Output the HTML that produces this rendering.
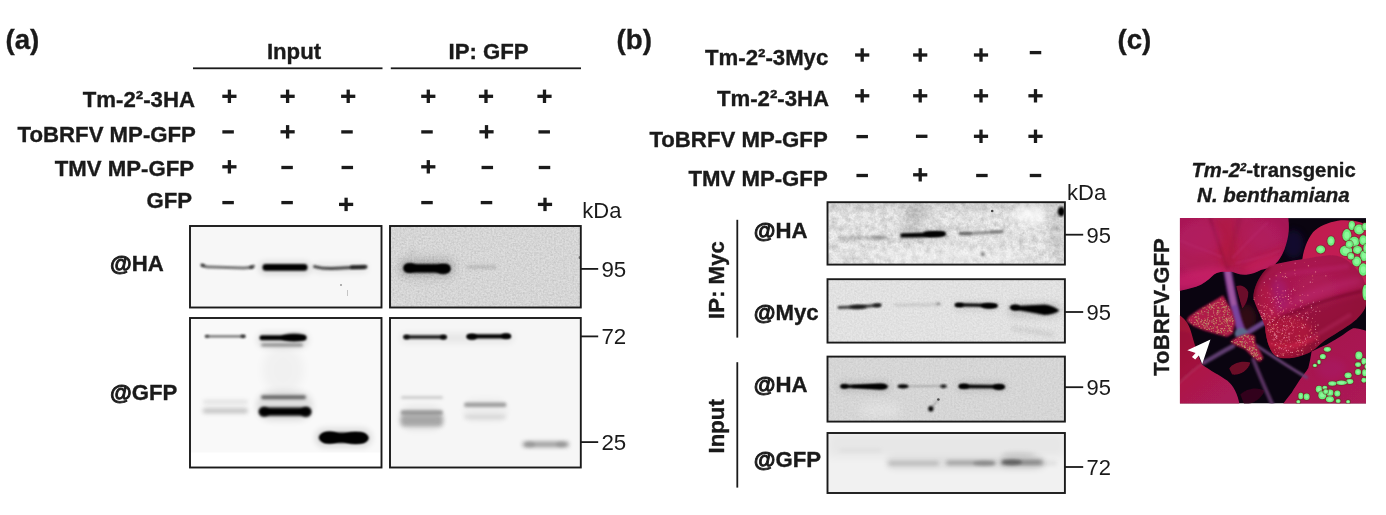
<!DOCTYPE html>
<html><head><meta charset="utf-8"><title>Figure</title>
<style>html,body{margin:0;padding:0;background:#fff;}body{width:1386px;height:515px;overflow:hidden;font-family:"Liberation Sans",sans-serif;}svg{display:block;position:absolute;left:0;top:0;}text{font-family:"Liberation Sans",sans-serif;fill:#1a1a1a;}text[font-weight="bold"]{stroke:#1a1a1a;stroke-width:0.35px;}</style></head><body>
<svg width="1386" height="515" viewBox="0 0 1386 515">
<defs>
<filter id="b05" filterUnits="userSpaceOnUse" x="180" y="195" width="900" height="310"><feGaussianBlur stdDeviation="0.5"/></filter>
<filter id="b08" filterUnits="userSpaceOnUse" x="180" y="195" width="900" height="310"><feGaussianBlur stdDeviation="0.8"/></filter>
<filter id="b1" filterUnits="userSpaceOnUse" x="180" y="195" width="900" height="310"><feGaussianBlur stdDeviation="1.0"/></filter>
<filter id="b15" filterUnits="userSpaceOnUse" x="180" y="195" width="900" height="310"><feGaussianBlur stdDeviation="1.5"/></filter>
<filter id="b2" filterUnits="userSpaceOnUse" x="180" y="195" width="900" height="310"><feGaussianBlur stdDeviation="2.0"/></filter>
<filter id="b3" filterUnits="userSpaceOnUse" x="180" y="195" width="900" height="310"><feGaussianBlur stdDeviation="3.0"/></filter>
<filter id="b5" filterUnits="userSpaceOnUse" x="180" y="195" width="900" height="310"><feGaussianBlur stdDeviation="5.0"/></filter>
<filter id="b8" filterUnits="userSpaceOnUse" x="180" y="195" width="900" height="310"><feGaussianBlur stdDeviation="8.0"/></filter>
<filter id="noiseF" x="0" y="0" width="100%" height="100%" color-interpolation-filters="sRGB"><feTurbulence type="fractalNoise" baseFrequency="0.55" numOctaves="2" seed="3"/><feColorMatrix type="matrix" values="0 0 0 0 0  0 0 0 0 0  0 0 0 0 0  0.14 0.14 0.14 0 -0.16"/></filter>
<filter id="noiseM" x="0" y="0" width="100%" height="100%" color-interpolation-filters="sRGB"><feTurbulence type="fractalNoise" baseFrequency="0.16" numOctaves="3" seed="8"/><feColorMatrix type="matrix" values="0 0 0 0 0  0 0 0 0 0  0 0 0 0 0  0.33 0.33 0.33 0 -0.40"/></filter>
</defs>
<rect x="0" y="0" width="1386" height="515" fill="#ffffff"/>
<g opacity="0.999">
<clipPath id="cpA1"><rect x="190" y="226" width="191.5" height="81.5"/></clipPath>
<g clip-path="url(#cpA1)">
<rect x="190" y="226" width="191.5" height="81.5" fill="#f7f7f7"/>
<path d="M201.8 264.9 Q204.5 266.8 211 267.1 L243 268.0 Q250 268.2 253.6 266.0" fill="none" stroke="#555" stroke-width="3.0" stroke-linecap="round" opacity="0.8" filter="url(#b1)"/>
<ellipse cx="203.0" cy="265.4" rx="1.8" ry="1.3" fill="#222" opacity="0.8" filter="url(#b08)"/>
<ellipse cx="251.5" cy="267.2" rx="2.2" ry="1.5" fill="#222" opacity="0.8" filter="url(#b08)"/>
<rect x="262.5" y="264.1" width="45.0" height="6.6" rx="3.3" fill="#000" opacity="1.0" filter="url(#b1)" />
<rect x="259.0" y="261.5" width="52.0" height="13.0" rx="6.5" fill="#000" opacity="0.12" filter="url(#b3)" />
<path d="M314.6 266.6 Q322 268.8 332 268.6 L352 267.6 Q360 267.2 366 266.8" fill="none" stroke="#2a2a2a" stroke-width="3.0" stroke-linecap="round" opacity="0.85" filter="url(#b1)"/>
<rect x="350.0" y="265.3" width="16.3" height="3.8" rx="1.9" fill="#111" opacity="0.7" filter="url(#b1)" />
<rect x="312.0" y="263.5" width="56.0" height="9.0" rx="4.5" fill="#000" opacity="0.07" filter="url(#b3)" />
<circle cx="341" cy="285" r="1" fill="#999" filter="url(#b05)"/>
<rect x="347" y="290" width="0.8" height="6" fill="#bbb" filter="url(#b05)"/>
</g>
<rect x="190" y="226" width="191.5" height="81.5" fill="none" stroke="#1a1a1a" stroke-width="1.9"/>
<clipPath id="cpA2"><rect x="190" y="318" width="191.5" height="149.5"/></clipPath>
<g clip-path="url(#cpA2)">
<rect x="190" y="318" width="191.5" height="149.5" fill="#f9f9f9"/>
<rect x="190" y="452.5" width="192" height="16" fill="#fff"/>
<rect x="205.2" y="335.2" width="40.2" height="2.4" rx="1.2" fill="#555" opacity="0.85" filter="url(#b08)" />
<ellipse cx="207.0" cy="336.3" rx="2.2" ry="1.4" fill="#333" opacity="0.8" filter="url(#b08)"/>
<ellipse cx="243.0" cy="336.3" rx="2.6" ry="1.7" fill="#222" opacity="0.85" filter="url(#b08)"/>
<rect x="259.5" y="335.3" width="46.5" height="5.0" rx="2.5" fill="#000" opacity="1.0" filter="url(#b1)" />
<ellipse cx="294.0" cy="337.5" rx="12.5" ry="3.7" fill="#000" opacity="1.0" filter="url(#b15)"/>
<rect x="261.0" y="343.5" width="42.0" height="3.0" rx="1.5" fill="#333" opacity="0.5" filter="url(#b15)" />
<rect x="257.0" y="332.0" width="52.0" height="16.0" rx="8.0" fill="#000" opacity="0.09" filter="url(#b3)" />
<rect x="203.0" y="400.2" width="45.0" height="3.5" rx="1.8" fill="#999" opacity="0.3" filter="url(#b2)" />
<rect x="202.6" y="408.3" width="45.4" height="5.0" rx="2.5" fill="#777" opacity="0.42" filter="url(#b2)" />
<rect x="261.0" y="395.2" width="45.0" height="4.0" rx="2.0" fill="#333" opacity="0.7" filter="url(#b15)" />
<rect x="259.3" y="407.4" width="51.7" height="8.4" rx="4.2" fill="#000" opacity="1.0" filter="url(#b15)" />
<ellipse cx="264.0" cy="411.8" rx="5.0" ry="4.8" fill="#000" opacity="0.8" filter="url(#b15)"/>
<ellipse cx="306.0" cy="412.0" rx="5.0" ry="5.0" fill="#000" opacity="0.8" filter="url(#b15)"/>
<rect x="256.0" y="391.0" width="57.0" height="30.0" rx="15.0" fill="#000" opacity="0.1" filter="url(#b3)" />
<rect x="262.0" y="345.0" width="42.0" height="50.0" rx="25.0" fill="#000" opacity="0.03" filter="url(#b5)" />
<ellipse cx="329.5" cy="437.4" rx="10.8" ry="6.0" fill="#000" opacity="1.0" filter="url(#b1)"/>
<ellipse cx="355.5" cy="437.9" rx="13.2" ry="6.0" fill="#000" opacity="1.0" filter="url(#b1)"/>
<rect x="321.0" y="432.4" width="46.0" height="10.6" rx="5.3" fill="#000" opacity="1.0" filter="url(#b1)" />
<rect x="315.0" y="428.2" width="57.0" height="19.0" rx="9.5" fill="#000" opacity="0.12" filter="url(#b3)" />
</g>
<rect x="190" y="318" width="191.5" height="149.5" fill="none" stroke="#1a1a1a" stroke-width="1.9"/>
<clipPath id="cpA3"><rect x="390" y="226" width="190.79999999999995" height="81.5"/></clipPath>
<g clip-path="url(#cpA3)">
<rect x="390" y="226" width="190.79999999999995" height="81.5" fill="#dedede"/>
<rect x="390" y="226" width="190.79999999999995" height="81.5" fill="#000" filter="url(#noiseF)" opacity="0.8"/>
<rect x="396.0" y="255.0" width="62.0" height="26.0" rx="13.0" fill="#000" opacity="0.05" filter="url(#b5)" />
<rect x="403.5" y="264.1" width="47.0" height="8.6" rx="4.3" fill="#000" opacity="1.0" filter="url(#b1)" />
<ellipse cx="410.0" cy="267.6" rx="6.0" ry="4.6" fill="#000" opacity="0.9" filter="url(#b1)"/>
<ellipse cx="443.0" cy="269.2" rx="7.0" ry="5.0" fill="#000" opacity="0.9" filter="url(#b1)"/>
<rect x="400.0" y="260.0" width="53.0" height="16.0" rx="8.0" fill="#000" opacity="0.14" filter="url(#b3)" />
<rect x="466.0" y="265.2" width="31.0" height="3.5" rx="1.8" fill="#777" opacity="0.3" filter="url(#b15)" />
<ellipse cx="412.0" cy="252.0" rx="3.0" ry="3.0" fill="#888" opacity="0.15" filter="url(#b2)"/>
<ellipse cx="579.5" cy="257.5" rx="0.9" ry="1.6" fill="#555" opacity="0.8" filter="url(#b05)"/>
</g>
<rect x="390" y="226" width="190.79999999999995" height="81.5" fill="none" stroke="#1a1a1a" stroke-width="1.9"/>
<clipPath id="cpA4"><rect x="390" y="318" width="190.79999999999995" height="149.5"/></clipPath>
<g clip-path="url(#cpA4)">
<rect x="390" y="318" width="190.79999999999995" height="149.5" fill="#f6f6f6"/>
<rect x="403.5" y="335.2" width="43.0" height="3.6" rx="1.8" fill="#111" opacity="0.95" filter="url(#b08)" />
<ellipse cx="406.5" cy="337.0" rx="3.0" ry="2.3" fill="#000" opacity="0.8" filter="url(#b08)"/>
<ellipse cx="443.5" cy="337.2" rx="3.2" ry="2.4" fill="#000" opacity="0.85" filter="url(#b08)"/>
<rect x="466.5" y="334.2" width="44.5" height="4.4" rx="2.2" fill="#000" opacity="1.0" filter="url(#b08)" />
<ellipse cx="472.0" cy="336.8" rx="5.0" ry="3.0" fill="#000" opacity="0.9" filter="url(#b08)"/>
<ellipse cx="506.0" cy="336.0" rx="4.5" ry="2.8" fill="#000" opacity="0.9" filter="url(#b08)"/>
<rect x="400.0" y="333.0" width="114.0" height="10.0" rx="5.0" fill="#000" opacity="0.06" filter="url(#b3)" />
<rect x="401.0" y="396.0" width="42.0" height="3.0" rx="1.5" fill="#999" opacity="0.45" filter="url(#b15)" />
<rect x="400.5" y="410.0" width="42.5" height="5.0" rx="2.5" fill="#666" opacity="0.55" filter="url(#b15)" />
<rect x="400.5" y="414.5" width="42.5" height="12.0" rx="4.0" fill="#777" opacity="0.55" filter="url(#b2)" />
<rect x="399.0" y="405.0" width="45.0" height="26.0" rx="13.0" fill="#000" opacity="0.05" filter="url(#b3)" />
<rect x="464.0" y="402.4" width="42.5" height="4.6" rx="2.3" fill="#777" opacity="0.65" filter="url(#b15)" />
<rect x="464.0" y="415.0" width="42.0" height="4.0" rx="2.0" fill="#aaa" opacity="0.35" filter="url(#b2)" />
<rect x="463.0" y="398.0" width="45.0" height="24.0" rx="12.0" fill="#000" opacity="0.03" filter="url(#b3)" />
<rect x="522.5" y="441.4" width="46.5" height="5.8" rx="2.9" fill="#777" opacity="0.7" filter="url(#b2)" />
<ellipse cx="530.0" cy="444.6" rx="5.0" ry="3.0" fill="#666" opacity="0.25" filter="url(#b15)"/>
<ellipse cx="561.0" cy="444.4" rx="5.0" ry="3.0" fill="#666" opacity="0.25" filter="url(#b15)"/>
</g>
<rect x="390" y="318" width="190.79999999999995" height="149.5" fill="none" stroke="#1a1a1a" stroke-width="1.9"/>
<clipPath id="cpB1"><rect x="827.5" y="202.2" width="237.4000000000001" height="62.400000000000034"/></clipPath>
<g clip-path="url(#cpB1)">
<rect x="827.5" y="202.2" width="237.4000000000001" height="62.400000000000034" fill="#f1f1f1"/>
<rect x="827.5" y="202.2" width="237.4000000000001" height="62.400000000000034" fill="#000" filter="url(#noiseM)" opacity="0.5"/>
<rect x="827.5" y="202.2" width="237.4000000000001" height="62.400000000000034" fill="#000" filter="url(#noiseF)" opacity="0.6"/>
<ellipse cx="1030.0" cy="214.0" rx="17.0" ry="10.0" fill="#fff" opacity="0.75" filter="url(#b5)"/>
<ellipse cx="915.0" cy="216.0" rx="11.0" ry="13.0" fill="#000" opacity="0.13" filter="url(#b5)"/>
<ellipse cx="1056.0" cy="232.0" rx="7.0" ry="28.0" fill="#000" opacity="0.1" filter="url(#b5)"/>
<ellipse cx="950.0" cy="256.0" rx="80.0" ry="8.0" fill="#fff" opacity="0.35" filter="url(#b5)"/>
<path d="M840 237.9 L887 237.6" fill="none" stroke="#666" stroke-width="2.6" stroke-linecap="round" opacity="0.42" filter="url(#b15)"/>
<ellipse cx="878.0" cy="237.6" rx="7.0" ry="1.8" fill="#444" opacity="0.35" filter="url(#b15)"/>
<path d="M902.5 235.4 Q925 235.4 943.5 233.8" fill="none" stroke="#000" stroke-width="4.4" stroke-linecap="round" opacity="1.0" filter="url(#b1)"/>
<ellipse cx="934.0" cy="233.9" rx="11.0" ry="2.9" fill="#000" opacity="1.0" filter="url(#b1)"/>
<rect x="827" y="200" width="240" height="9" fill="#000" opacity="0.07" filter="url(#b3)"/>
<rect x="898.0" y="229.5" width="51.0" height="11.0" rx="5.5" fill="#000" opacity="0.12" filter="url(#b3)" />
<path d="M959.5 233.6 Q980 233.2 1002.5 231.5" fill="none" stroke="#555" stroke-width="2.6" stroke-linecap="round" opacity="0.6" filter="url(#b1)"/>
<ellipse cx="966.0" cy="233.6" rx="7.0" ry="1.8" fill="#333" opacity="0.45" filter="url(#b1)"/>
<ellipse cx="996.0" cy="231.8" rx="6.0" ry="1.6" fill="#333" opacity="0.35" filter="url(#b1)"/>
<ellipse cx="1061.3" cy="211.6" rx="3.6" ry="4.8" fill="#000" opacity="1.0" filter="url(#b1)"/>
<ellipse cx="992.2" cy="211.0" rx="1.3" ry="1.3" fill="#333" opacity="0.9" filter="url(#b05)"/>
<ellipse cx="982.8" cy="254.3" rx="2.0" ry="2.0" fill="#666" opacity="0.75" filter="url(#b08)"/>
</g>
<rect x="827.5" y="202.2" width="237.4000000000001" height="62.400000000000034" fill="none" stroke="#1a1a1a" stroke-width="1.9"/>
<clipPath id="cpB2"><rect x="827.5" y="279.2" width="237.4000000000001" height="63.400000000000034"/></clipPath>
<g clip-path="url(#cpB2)">
<rect x="827.5" y="279.2" width="237.4000000000001" height="63.400000000000034" fill="#e7e7e7"/>
<rect x="827.5" y="279.2" width="237.4000000000001" height="63.400000000000034" fill="#000" filter="url(#noiseF)" opacity="0.5"/>
<path d="M839 307.6 Q858 307.4 880 305.0" fill="none" stroke="#2a2a2a" stroke-width="3.0" stroke-linecap="round" opacity="0.9" filter="url(#b1)"/>
<ellipse cx="858.0" cy="307.0" rx="9.0" ry="2.2" fill="#111" opacity="0.8" filter="url(#b1)"/>
<ellipse cx="877.0" cy="305.3" rx="4.0" ry="1.9" fill="#111" opacity="0.8" filter="url(#b1)"/>
<path d="M895 305.2 L939 304.4" fill="none" stroke="#888" stroke-width="2.0" stroke-linecap="round" opacity="0.4" filter="url(#b15)"/>
<ellipse cx="938.5" cy="303.8" rx="2.2" ry="1.5" fill="#555" opacity="0.5" filter="url(#b1)"/>
<path d="M956.5 304.9 Q975 305.0 996 305.8" fill="none" stroke="#000" stroke-width="3.4" stroke-linecap="round" opacity="1.0" filter="url(#b1)"/>
<ellipse cx="959.5" cy="304.9" rx="4.2" ry="2.0" fill="#000" opacity="1.0" filter="url(#b08)"/>
<ellipse cx="989.0" cy="305.8" rx="8.2" ry="2.9" fill="#000" opacity="1.0" filter="url(#b1)"/>
<rect x="953.0" y="301.5" width="47.0" height="9.0" rx="4.5" fill="#000" opacity="0.08" filter="url(#b3)" />
<ellipse cx="1015.0" cy="307.5" rx="5.4" ry="2.9" fill="#000" opacity="1.0" filter="url(#b1)"/>
<path d="M1012 306.0 L1045 304.6 Q1053 305.5 1059.5 310.6 Q1054 315.0 1044 315.0 Q1030 312 1012 309.2 Z" fill="#000" filter="url(#b1)"/>
<rect x="1007.0" y="302.0" width="55.0" height="16.0" rx="8.0" fill="#000" opacity="0.1" filter="url(#b3)" />
<path d="M1013 328.8 Q1035 331 1053 335" fill="none" stroke="#888" stroke-width="3.0" stroke-linecap="round" opacity="0.3" filter="url(#b2)"/>
</g>
<rect x="827.5" y="279.2" width="237.4000000000001" height="63.400000000000034" fill="none" stroke="#1a1a1a" stroke-width="1.9"/>
<clipPath id="cpB3"><rect x="827.5" y="356.6" width="237.4000000000001" height="65.0"/></clipPath>
<g clip-path="url(#cpB3)">
<rect x="827.5" y="356.6" width="237.4000000000001" height="65.0" fill="#dbdbdb"/>
<rect x="827.5" y="356.6" width="237.4000000000001" height="65.0" fill="#000" filter="url(#noiseF)" opacity="0.5"/>
<path d="M842 386.3 L884 386.4" fill="none" stroke="#000" stroke-width="3.2" stroke-linecap="round" opacity="1.0" filter="url(#b1)"/>
<ellipse cx="844.5" cy="386.3" rx="3.6" ry="2.1" fill="#000" opacity="1.0" filter="url(#b08)"/>
<path d="M852 385.4 L880 383.6 Q888 384 888 386.6 Q888 389.6 880 389.8 L852 387.4 Z" fill="#000" filter="url(#b1)"/>
<rect x="838.0" y="380.5" width="53.0" height="12.0" rx="6.0" fill="#000" opacity="0.09" filter="url(#b3)" />
<path d="M899 386.3 L945 386.2" fill="none" stroke="#555" stroke-width="1.3" stroke-linecap="round" opacity="0.5" filter="url(#b08)"/>
<ellipse cx="903.0" cy="386.3" rx="5.4" ry="2.1" fill="#000" opacity="1.0" filter="url(#b08)"/>
<ellipse cx="943.5" cy="386.2" rx="3.2" ry="1.8" fill="#111" opacity="0.95" filter="url(#b08)"/>
<path d="M960.5 386.4 L1002 386.7" fill="none" stroke="#000" stroke-width="3.6" stroke-linecap="round" opacity="1.0" filter="url(#b1)"/>
<ellipse cx="964.0" cy="386.3" rx="5.0" ry="2.5" fill="#000" opacity="1.0" filter="url(#b08)"/>
<ellipse cx="999.0" cy="386.9" rx="6.2" ry="3.0" fill="#000" opacity="1.0" filter="url(#b1)"/>
<rect x="956.0" y="381.1" width="52.0" height="11.0" rx="5.5" fill="#000" opacity="0.08" filter="url(#b3)" />
<ellipse cx="930.9" cy="408.8" rx="2.6" ry="2.8" fill="#000" opacity="1.0" filter="url(#b08)"/>
<path d="M931.5 407.5 L938.2 399.8" fill="none" stroke="#555" stroke-width="1.2" stroke-linecap="round" opacity="0.5" filter="url(#b08)"/>
<ellipse cx="938.4" cy="399.5" rx="1.3" ry="1.3" fill="#333" opacity="0.85" filter="url(#b05)"/>
<ellipse cx="880.0" cy="410.0" rx="22.0" ry="8.0" fill="#fff" opacity="0.25" filter="url(#b5)"/>
</g>
<rect x="827.5" y="356.6" width="237.4000000000001" height="65.0" fill="none" stroke="#1a1a1a" stroke-width="1.9"/>
<clipPath id="cpB4"><rect x="827.5" y="433.0" width="237.4000000000001" height="60.0"/></clipPath>
<g clip-path="url(#cpB4)">
<rect x="827.5" y="433.0" width="237.4000000000001" height="60.0" fill="#f1f1f1"/>
<rect x="827.5" y="433" width="238" height="24" fill="#000" opacity="0.04" filter="url(#b5)"/>
<rect x="840.0" y="449.0" width="41.0" height="3.0" rx="1.5" fill="#aaa" opacity="0.18" filter="url(#b2)" />
<rect x="888.0" y="461.2" width="51.0" height="4.2" rx="2.1" fill="#888" opacity="0.42" filter="url(#b2)" />
<rect x="946.0" y="460.7" width="50.0" height="4.4" rx="2.2" fill="#666" opacity="0.55" filter="url(#b2)" />
<ellipse cx="984.0" cy="463.4" rx="11.0" ry="2.6" fill="#555" opacity="0.35" filter="url(#b15)"/>
<rect x="1000.5" y="460.1" width="42.5" height="5.0" rx="2.5" fill="#555" opacity="0.62" filter="url(#b2)" />
<ellipse cx="1012.0" cy="462.2" rx="10.0" ry="3.0" fill="#333" opacity="0.45" filter="url(#b15)"/>
<rect x="1040.0" y="461.7" width="17.0" height="3.0" rx="1.5" fill="#999" opacity="0.3" filter="url(#b2)" />
<ellipse cx="1018.0" cy="455.0" rx="16.0" ry="3.0" fill="#888" opacity="0.18" filter="url(#b2)"/>
<rect x="886.0" y="456.5" width="160.0" height="13.0" rx="6.5" fill="#000" opacity="0.07" filter="url(#b3)" />
<rect x="1000.0" y="453.0" width="40.0" height="16.0" rx="8.0" fill="#000" opacity="0.05" filter="url(#b3)" />
</g>
<rect x="827.5" y="433.0" width="237.4000000000001" height="60.0" fill="none" stroke="#1a1a1a" stroke-width="1.9"/>
<text x="5.5" y="49.3" font-size="27.7" font-weight="bold" font-style="normal" text-anchor="start" >(a)</text>
<text x="294.0" y="58.8" font-size="22.2" font-weight="bold" font-style="normal" text-anchor="middle" >Input</text>
<text x="488.6" y="58.8" font-size="22.2" font-weight="bold" font-style="normal" text-anchor="middle" >IP: GFP</text>
<rect x="193" y="67.4" width="189.5" height="1.8" fill="#1a1a1a"/>
<rect x="390.8" y="67.4" width="190.2" height="1.8" fill="#1a1a1a"/>
<text x="195.0" y="107.2" font-size="22.2" font-weight="bold" font-style="normal" text-anchor="end" >Tm-2²-3HA</text>
<text x="195.9" y="141.8" font-size="22.2" font-weight="bold" font-style="normal" text-anchor="end" >ToBRFV MP-GFP</text>
<text x="194.1" y="176.0" font-size="22.2" font-weight="bold" font-style="normal" text-anchor="end" >TMV MP-GFP</text>
<text x="192.2" y="208.0" font-size="22.2" font-weight="bold" font-style="normal" text-anchor="end" >GFP</text>
<g fill="#1a1a1a">
<rect x="222.30" y="94.65" width="14.20" height="3.30"/><rect x="227.75" y="89.60" width="3.30" height="13.40"/>
<rect x="280.50" y="94.65" width="14.20" height="3.30"/><rect x="285.95" y="89.60" width="3.30" height="13.40"/>
<rect x="341.10" y="94.65" width="14.20" height="3.30"/><rect x="346.55" y="89.60" width="3.30" height="13.40"/>
<rect x="421.20" y="94.65" width="14.20" height="3.30"/><rect x="426.65" y="89.60" width="3.30" height="13.40"/>
<rect x="478.90" y="94.65" width="14.20" height="3.30"/><rect x="484.35" y="89.60" width="3.30" height="13.40"/>
<rect x="537.40" y="94.65" width="14.20" height="3.30"/><rect x="542.85" y="89.60" width="3.30" height="13.40"/>
<rect x="222.35" y="130.25" width="11.50" height="3.30"/>
<rect x="280.50" y="130.15" width="14.20" height="3.30"/><rect x="285.95" y="125.10" width="3.30" height="13.40"/>
<rect x="341.25" y="130.25" width="11.50" height="3.30"/>
<rect x="421.25" y="130.25" width="11.50" height="3.30"/>
<rect x="479.40" y="130.15" width="14.20" height="3.30"/><rect x="484.85" y="125.10" width="3.30" height="13.40"/>
<rect x="538.45" y="130.25" width="11.50" height="3.30"/>
<rect x="222.30" y="165.15" width="14.20" height="3.30"/><rect x="227.75" y="160.10" width="3.30" height="13.40"/>
<rect x="281.35" y="165.85" width="11.50" height="3.30"/>
<rect x="341.55" y="165.85" width="11.50" height="3.30"/>
<rect x="421.20" y="165.15" width="14.20" height="3.30"/><rect x="426.65" y="160.10" width="3.30" height="13.40"/>
<rect x="481.55" y="165.85" width="11.50" height="3.30"/>
<rect x="538.75" y="165.85" width="11.50" height="3.30"/>
<rect x="222.35" y="200.95" width="11.50" height="3.30"/>
<rect x="281.35" y="200.95" width="11.50" height="3.30"/>
<rect x="339.00" y="202.75" width="14.20" height="3.30"/><rect x="344.45" y="197.70" width="3.30" height="13.40"/>
<rect x="421.25" y="200.95" width="11.50" height="3.30"/>
<rect x="480.75" y="200.95" width="11.50" height="3.30"/>
<rect x="537.90" y="202.75" width="14.20" height="3.30"/><rect x="543.35" y="197.70" width="3.30" height="13.40"/>
<rect x="855.10" y="53.35" width="14.20" height="3.30"/><rect x="860.55" y="48.30" width="3.30" height="13.40"/>
<rect x="913.10" y="53.35" width="14.20" height="3.30"/><rect x="918.55" y="48.30" width="3.30" height="13.40"/>
<rect x="973.90" y="53.35" width="14.20" height="3.30"/><rect x="979.35" y="48.30" width="3.30" height="13.40"/>
<rect x="1029.75" y="50.95" width="11.50" height="3.30"/>
<rect x="855.10" y="94.15" width="14.20" height="3.30"/><rect x="860.55" y="89.10" width="3.30" height="13.40"/>
<rect x="913.10" y="94.15" width="14.20" height="3.30"/><rect x="918.55" y="89.10" width="3.30" height="13.40"/>
<rect x="973.90" y="94.15" width="14.20" height="3.30"/><rect x="979.35" y="89.10" width="3.30" height="13.40"/>
<rect x="1028.40" y="94.15" width="14.20" height="3.30"/><rect x="1033.85" y="89.10" width="3.30" height="13.40"/>
<rect x="856.45" y="134.95" width="11.50" height="3.30"/>
<rect x="915.95" y="134.65" width="11.50" height="3.30"/>
<rect x="973.90" y="134.65" width="14.20" height="3.30"/><rect x="979.35" y="129.60" width="3.30" height="13.40"/>
<rect x="1028.40" y="134.65" width="14.20" height="3.30"/><rect x="1033.85" y="129.60" width="3.30" height="13.40"/>
<rect x="856.45" y="173.85" width="11.50" height="3.30"/>
<rect x="913.10" y="173.15" width="14.20" height="3.30"/><rect x="918.55" y="168.10" width="3.30" height="13.40"/>
<rect x="976.15" y="173.85" width="11.50" height="3.30"/>
<rect x="1029.75" y="173.85" width="11.50" height="3.30"/>
</g>
<text x="582.3" y="218.1" font-size="22" font-weight="normal" font-style="normal" text-anchor="start" >kDa</text>
<text x="110.0" y="271.0" font-size="22.2" font-weight="bold" font-style="normal" text-anchor="start" ><tspan stroke="#1a1a1a" stroke-width="0.9">@</tspan>HA</text>
<text x="110.0" y="399.5" font-size="22.2" font-weight="bold" font-style="normal" text-anchor="start" ><tspan stroke="#1a1a1a" stroke-width="0.9">@</tspan>GFP</text>
<rect x="581" y="268.0" width="17.2" height="1.8" fill="#1a1a1a"/>
<text x="601.4" y="276.5" font-size="22.3" font-weight="normal" font-style="normal" text-anchor="start" >95</text>
<rect x="581" y="335.5" width="17.2" height="1.8" fill="#1a1a1a"/>
<text x="601.4" y="343.5" font-size="22.3" font-weight="normal" font-style="normal" text-anchor="start" >72</text>
<rect x="581" y="441.20000000000005" width="17.2" height="1.8" fill="#1a1a1a"/>
<text x="601.4" y="449.6" font-size="22.3" font-weight="normal" font-style="normal" text-anchor="start" >25</text>
<text x="616.5" y="49.3" font-size="27.7" font-weight="bold" font-style="normal" text-anchor="start" >(b)</text>
<text x="828.3" y="65.4" font-size="22.2" font-weight="bold" font-style="normal" text-anchor="end" >Tm-2²-3Myc</text>
<text x="829.1" y="106.0" font-size="22.2" font-weight="bold" font-style="normal" text-anchor="end" >Tm-2²-3HA</text>
<text x="827.7" y="147.2" font-size="22.2" font-weight="bold" font-style="normal" text-anchor="end" >ToBRFV MP-GFP</text>
<text x="827.7" y="186.0" font-size="22.2" font-weight="bold" font-style="normal" text-anchor="end" >TMV MP-GFP</text>
<text x="1067.0" y="199.5" font-size="22" font-weight="normal" font-style="normal" text-anchor="start" >kDa</text>
<rect x="1065" y="233.79999999999998" width="18.2" height="1.8" fill="#1a1a1a"/>
<text x="1086.5" y="242.7" font-size="22" font-weight="normal" font-style="normal" text-anchor="start" >95</text>
<rect x="1065" y="311.1" width="18.2" height="1.8" fill="#1a1a1a"/>
<text x="1086.5" y="320.0" font-size="22" font-weight="normal" font-style="normal" text-anchor="start" >95</text>
<rect x="1065" y="386.3" width="18.2" height="1.8" fill="#1a1a1a"/>
<text x="1086.5" y="395.2" font-size="22" font-weight="normal" font-style="normal" text-anchor="start" >95</text>
<rect x="1065" y="466.1" width="18.2" height="1.8" fill="#1a1a1a"/>
<text x="1086.5" y="475.0" font-size="22" font-weight="normal" font-style="normal" text-anchor="start" >72</text>
<text x="753.8" y="237.9" font-size="22.2" font-weight="bold" font-style="normal" text-anchor="start" ><tspan stroke="#1a1a1a" stroke-width="0.9">@</tspan>HA</text>
<text x="753.8" y="320.0" font-size="22.2" font-weight="bold" font-style="normal" text-anchor="start" ><tspan stroke="#1a1a1a" stroke-width="0.9">@</tspan>Myc</text>
<text x="753.8" y="391.7" font-size="22.2" font-weight="bold" font-style="normal" text-anchor="start" ><tspan stroke="#1a1a1a" stroke-width="0.9">@</tspan>HA</text>
<text x="753.8" y="467.4" font-size="22.2" font-weight="bold" font-style="normal" text-anchor="start" ><tspan stroke="#1a1a1a" stroke-width="0.9">@</tspan>GFP</text>
<rect x="736.4" y="219.8" width="1.8" height="117.8" fill="#1a1a1a"/>
<rect x="736.4" y="362.2" width="1.8" height="125.4" fill="#1a1a1a"/>
<text transform="translate(723.9,280.1) rotate(-90)" font-size="22.2" font-weight="bold" text-anchor="middle">IP: Myc</text>
<text transform="translate(723.9,426.3) rotate(-90)" font-size="22.2" font-weight="bold" text-anchor="middle">Input</text>
<text x="1117.5" y="49.3" font-size="27.7" font-weight="bold" font-style="normal" text-anchor="start" >(c)</text>
<text x="1273.6" y="177.4" font-size="20.3" font-weight="bold" text-anchor="middle"><tspan font-style="italic">Tm-2<tspan font-size="11.5" dy="-6.6">2</tspan></tspan><tspan dy="6.6">-transgenic</tspan></text>
<text x="1273.4" y="202.4" font-size="20.5" font-weight="bold" font-style="italic" text-anchor="middle" >N. benthamiana</text>
<text transform="translate(1168.6,307) rotate(-90)" font-size="22.2" font-weight="bold" text-anchor="middle">ToBRFV-GFP</text>
<clipPath id="cpP"><rect x="0" y="0" width="185.0" height="185.0"/></clipPath>
<radialGradient id="gTL" cx="0.45" cy="0.45" r="0.8"><stop offset="0" stop-color="#b41a50"/><stop offset="0.55" stop-color="#ae1a58"/><stop offset="1" stop-color="#9e1654"/></radialGradient>
<radialGradient id="gMR" cx="0.55" cy="0.35" r="0.85"><stop offset="0" stop-color="#b01c58"/><stop offset="0.5" stop-color="#a4164a"/><stop offset="1" stop-color="#800c2c"/></radialGradient>
<linearGradient id="gTR" x1="0" y1="0" x2="1" y2="1"><stop offset="0" stop-color="#c01c4e"/><stop offset="1" stop-color="#c42258"/></linearGradient>
<linearGradient id="gLR" x1="0" y1="0" x2="1" y2="1"><stop offset="0" stop-color="#a4164c"/><stop offset="1" stop-color="#ac1a56"/></linearGradient>
<linearGradient id="gLL" x1="0" y1="0" x2="0.5" y2="1"><stop offset="0" stop-color="#9c1436"/><stop offset="0.5" stop-color="#ae1842"/><stop offset="1" stop-color="#aa1a58"/></linearGradient>
<filter id="pb1" filterUnits="userSpaceOnUse" x="-12" y="-12" width="210" height="210"><feGaussianBlur stdDeviation="0.8"/></filter>
<filter id="pb2" filterUnits="userSpaceOnUse" x="-12" y="-12" width="210" height="210"><feGaussianBlur stdDeviation="1.6"/></filter>
<filter id="pb3" filterUnits="userSpaceOnUse" x="-12" y="-12" width="210" height="210"><feGaussianBlur stdDeviation="3"/></filter>
<filter id="pb05" filterUnits="userSpaceOnUse" x="-12" y="-12" width="210" height="210"><feGaussianBlur stdDeviation="0.5"/></filter>
<g transform="translate(1179.9,218.1) scale(1.0059,1.0027)"><g clip-path="url(#cpP)">
<rect x="0" y="0" width="185.0" height="185.0" fill="#0a0410"/>
<ellipse cx="113" cy="26" rx="10" ry="14" fill="#15103a" opacity="0.7" filter="url(#pb3)"/>
<ellipse cx="66" cy="100" rx="10" ry="14" fill="#3a0818" opacity="0.8" filter="url(#pb3)"/>
<g filter="url(#pb05)"><path d="M121.5 44 C122 34 126 22 132.5 13.8 C138 8 148 4 157 2.6 C164 1.8 174 2.4 181.5 4.8 C184 6 186 9 190 14 L190 84 L150 60 Z" fill="url(#gTR)"/><path d="M130.9 133 C137 130 142 128 145.8 126.3 C152 123 158 119 162.3 116.4 C166 113.5 169 111 172.2 109.8 C177 109.6 181 111 190 114 L190 190 L100 190 C103 184 107 179 111.1 174.1 C114 169 117 165 119.4 160.9 C123 156 125.5 153 127.6 149.4 C129 144 130 139 130.9 133 Z" fill="url(#gLR)"/><path d="M-2 96 C4 99 9 106 11 113 C14 124 18 138 22 146 C30 152 40 157 47 162 C54 168 58 176 60 190 L-2 190 Z" fill="url(#gLL)"/><path d="M49 150 C53 144 62 142 70 144 C68 152 60 157 52 156 Z" fill="#6a0a28"/><path d="M60 176 C66 170 76 168 84 172 C82 180 72 186 64 186 Z" fill="#30061a"/><path d="M56 68 C60 66 66 68 68 74 C68 80 66 86 62 90 C60 84 58 76 56 68 Z" fill="#6a0a2a"/></g>
<g filter="url(#pb1)"><path d="M47.5 53 C49 62 51 74 53.5 86 C56 98 59 108 62 114" stroke="#6c2c7c" stroke-width="8.6" fill="none" stroke-linecap="round"/><path d="M47.5 53 C49 62 51 74 53.5 86 C56 98 59 108 62 114" stroke="#96509c" stroke-width="5.4" fill="none" stroke-linecap="round"/><path d="M47.8 55 C49 62 51 74 53.5 86" stroke="#a25aa4" stroke-width="2.5" fill="none" stroke-linecap="round"/><path d="M54.5 90 C56.5 99 59 108 62 114" stroke="#6c40a0" stroke-width="6.5" fill="none" stroke-linecap="round" opacity="0.7"/><path d="M64 116 C72 111 82 105 95 97" stroke="#6a4488" stroke-width="5.2" fill="none" stroke-linecap="round"/><path d="M53 127.5 C44 132 33 139 24 144" stroke="#5e3c70" stroke-width="4.4" fill="none" stroke-linecap="round"/><path d="M24 144 C15 150 6 158 -2 166" stroke="#b84a78" stroke-width="1.8" fill="none" opacity="0.45"/><path d="M-2 112 L10 114 L23 145 C14 150 6 158 -2 166 Z" fill="#80102c" opacity="0.28"/><path d="M76 127 C88 135 104 146 126 159" stroke="#6c4478" stroke-width="2.8" fill="none" stroke-linecap="round"/><path d="M73 141 C78 154 84 168 92 186" stroke="#583060" stroke-width="3.8" fill="none" stroke-linecap="round"/><ellipse cx="61" cy="115" rx="6.5" ry="5.5" fill="#5c6a8c"/></g>
<g filter="url(#pb05)"><path d="M-2 -2 L107.5 -2 C109 8 109 18 104 31 C101 39 97 44 93 47.5 C88 50 84 51 81 51.5 C76 54 72 56 66 56.5 C60 57 56 55 51.5 53.5 L42 53.5 C38 54 35 55 32 58 C28 62 23 66 16 68.5 C10 70 4 72 -2 73 Z" fill="url(#gTL)"/><path d="M89 47.5 C100 44 115 42 128 40 C140 38 150 36 158 38 C168 41 176 50 182 60 C186 68 187 80 184 90 C180 98 172 105 163 110 C152 117 143 122 138 127 C133 132 128 135 120 137.5 C112 140 102 141 96 138 C90 134 86 124 84.5 108 C82 100 76 90 73 80 C73 70 78 58 89 47.5 Z" fill="url(#gMR)"/></g>
<clipPath id="cpMR"><path d="M89 47.5 C100 44 115 42 128 40 C140 38 150 36 158 38 C168 41 176 50 182 60 C186 68 187 80 184 90 C180 98 172 105 163 110 C152 117 143 122 138 127 C133 132 128 135 120 137.5 C112 140 102 141 96 138 C90 134 86 124 84.5 108 C82 100 76 90 73 80 C73 70 78 58 89 47.5 Z"/></clipPath>
<g clip-path="url(#cpMR)">
<path d="M80 110 C100 100 130 86 186 74 L190 100 L140 140 L90 145 Z" fill="#7c0a26" opacity="0.45" filter="url(#pb3)"/>
<path d="M84 109 C100 99 130 84 184 72" stroke="#5c0618" stroke-width="2.5" fill="none" opacity="0.55" filter="url(#pb2)"/>
<path d="M90 96 C110 84 140 70 180 62" stroke="#c43484" stroke-width="7" fill="none" opacity="0.35" filter="url(#pb3)"/>
<path d="M96 58 C112 54 140 52 168 48" stroke="#c02c78" stroke-width="5" fill="none" opacity="0.3" filter="url(#pb2)"/>
<path d="M100 133 C118 128 144 112 170 96" stroke="#c0306c" stroke-width="4" fill="none" opacity="0.35" filter="url(#pb2)"/>
<ellipse cx="98" cy="76" rx="9" ry="16" fill="#a4228c" opacity="0.4" filter="url(#pb3)"/>
<path d="M73 80 C73 70 78 58 89 47.5" stroke="#5c0618" stroke-width="4" fill="none" opacity="0.5" filter="url(#pb2)"/>
<ellipse cx="102" cy="120" rx="30" ry="20" fill="#c41a40" opacity="0.5" filter="url(#pb3)" transform="rotate(-22 102 120)"/>
<ellipse cx="88" cy="88" rx="9" ry="22" fill="#c01a40" opacity="0.4" filter="url(#pb3)" transform="rotate(-12 88 88)"/>
<path d="M86 124 C100 130 120 128 138 118" stroke="#e02848" stroke-width="4" fill="none" opacity="0.35" filter="url(#pb2)"/>
</g>
<ellipse cx="150" cy="150" rx="14" ry="10" fill="#a8208a" opacity="0.2" filter="url(#pb3)"/>
<clipPath id="cpTL"><path d="M-2 -2 L107.5 -2 C109 8 109 18 104 31 C101 39 97 44 93 47.5 C88 50 84 51 81 51.5 C76 54 72 56 66 56.5 C60 57 56 55 51.5 53.5 L42 53.5 C38 54 35 55 32 58 C28 62 23 66 16 68.5 C10 70 4 72 -2 73 Z"/></clipPath>
<g clip-path="url(#cpTL)">
<path d="M47.5 51 C42 36 36 18 29.5 -1" stroke="#861040" stroke-width="3" fill="none" opacity="0.45" filter="url(#pb1)"/>
<path d="M49 48 C50 34 54 16 60 -1" stroke="#901244" stroke-width="6" fill="none" opacity="0.3" filter="url(#pb2)"/>
<path d="M50 50 C48 34 46 16 44 -1" stroke="#b01430" stroke-width="18" fill="none" opacity="0.38" filter="url(#pb3)"/>
<path d="M60 52 C76 46 90 38 104 28" stroke="#c01838" stroke-width="8" fill="none" opacity="0.3" filter="url(#pb3)"/>
<path d="M42 39 C30 34 14 28 0 22" stroke="#c43a80" stroke-width="1.6" fill="none" opacity="0.35" filter="url(#pb1)"/>
<path d="M55 45 C70 42 86 38 101 32" stroke="#c43a80" stroke-width="1.6" fill="none" opacity="0.35" filter="url(#pb1)"/>
<path d="M52 40 C62 30 74 16 88 4" stroke="#c43a80" stroke-width="1.6" fill="none" opacity="0.35" filter="url(#pb1)"/>
<ellipse cx="20" cy="20" rx="22" ry="16" fill="#b42070" opacity="0.3" filter="url(#pb3)"/>
<ellipse cx="85" cy="18" rx="18" ry="14" fill="#b42070" opacity="0.25" filter="url(#pb3)"/>
<ellipse cx="18" cy="60" rx="30" ry="9" fill="#d42270" opacity="0.55" filter="url(#pb3)" transform="rotate(-12 18 60)"/>
<ellipse cx="84" cy="46" rx="20" ry="7" fill="#d02268" opacity="0.4" filter="url(#pb3)" transform="rotate(-20 84 46)"/>
</g>
<g filter="url(#pb1)"><polygon points="7.6,102.5 9.2,99 20,91.3 30.9,85 42.6,78 46.5,85 51.1,92.8 54.2,103.7 51.9,114.6 46.5,117.7 35.6,114.6 24.7,111.5 13.8,106.8" fill="#b01e4a" stroke="#b01e4a" stroke-width="1.5" stroke-linejoin="round"/><polygon points="51.1,123.1 57.4,119.2 66.7,116.1 73.7,117.7 74.5,125.5 79.1,133.2 82.2,139.5 79.1,142.6 72.9,137.9 65.1,130.1 55.8,126.2" fill="#b01e48" stroke="#b01e48" stroke-width="1.5" stroke-linejoin="round"/></g>
<g opacity="0.8"><circle cx="41.9" cy="104.9" r="0.66" fill="#c89a60"/><circle cx="35.7" cy="100.3" r="0.60" fill="#c8b060"/><circle cx="33.0" cy="86.8" r="0.56" fill="#d0c070"/><circle cx="48.1" cy="108.1" r="0.41" fill="#98b070"/><circle cx="47.1" cy="102.0" r="0.63" fill="#c8b060"/><circle cx="21.3" cy="103.0" r="0.66" fill="#d88070"/><circle cx="34.5" cy="106.0" r="0.37" fill="#b0aa68"/><circle cx="47.5" cy="112.4" r="0.48" fill="#98b070"/><circle cx="37.2" cy="92.5" r="0.48" fill="#b0aa68"/><circle cx="38.8" cy="105.9" r="0.59" fill="#c89a60"/><circle cx="36.0" cy="84.8" r="0.61" fill="#b0aa68"/><circle cx="29.1" cy="88.7" r="0.67" fill="#c8b060"/><circle cx="33.6" cy="105.2" r="0.64" fill="#d0c070"/><circle cx="45.1" cy="93.9" r="0.37" fill="#e0a090"/><circle cx="48.4" cy="90.5" r="0.58" fill="#98b070"/><circle cx="48.8" cy="103.5" r="0.40" fill="#b0aa68"/><circle cx="19.1" cy="100.3" r="0.44" fill="#e0a090"/><circle cx="27.6" cy="101.2" r="0.48" fill="#b0aa68"/><circle cx="36.8" cy="109.4" r="0.50" fill="#c89a60"/><circle cx="25.5" cy="101.7" r="0.51" fill="#d88070"/><circle cx="39.4" cy="99.3" r="0.44" fill="#c8b060"/><circle cx="23.5" cy="89.7" r="0.41" fill="#c89a60"/><circle cx="52.0" cy="112.8" r="0.44" fill="#e0a090"/><circle cx="43.1" cy="98.2" r="0.39" fill="#c8b060"/><circle cx="21.5" cy="103.4" r="0.56" fill="#b0aa68"/><circle cx="50.4" cy="101.8" r="0.52" fill="#c89a60"/><circle cx="50.9" cy="112.9" r="0.64" fill="#d88070"/><circle cx="41.7" cy="110.4" r="0.69" fill="#e0a090"/><circle cx="43.3" cy="83.1" r="0.52" fill="#e0a090"/><circle cx="15.3" cy="98.9" r="0.56" fill="#b0aa68"/><circle cx="50.9" cy="108.0" r="0.59" fill="#c8b060"/><circle cx="37.9" cy="95.4" r="0.53" fill="#c89a60"/><circle cx="40.6" cy="80.3" r="0.37" fill="#c89a60"/><circle cx="18.7" cy="104.6" r="0.42" fill="#b0aa68"/><circle cx="41.3" cy="113.0" r="0.55" fill="#b0aa68"/><circle cx="44.2" cy="110.1" r="0.42" fill="#c89a60"/><circle cx="38.3" cy="92.1" r="0.49" fill="#d0c070"/><circle cx="41.6" cy="104.7" r="0.69" fill="#c89a60"/><circle cx="44.9" cy="82.3" r="0.42" fill="#e0a090"/><circle cx="28.5" cy="94.7" r="0.45" fill="#b0aa68"/><circle cx="45.3" cy="112.0" r="0.38" fill="#c8b060"/><circle cx="30.2" cy="86.5" r="0.49" fill="#c89a60"/><circle cx="44.2" cy="89.3" r="0.59" fill="#c8b060"/><circle cx="41.1" cy="84.1" r="0.45" fill="#c89a60"/><circle cx="34.6" cy="99.5" r="0.61" fill="#c89a60"/><circle cx="50.4" cy="99.1" r="0.37" fill="#e0a090"/><circle cx="35.3" cy="104.8" r="0.43" fill="#c89a60"/><circle cx="51.5" cy="100.6" r="0.55" fill="#c89a60"/><circle cx="36.5" cy="94.6" r="0.55" fill="#e0a090"/><circle cx="38.8" cy="90.5" r="0.44" fill="#b0aa68"/><circle cx="38.9" cy="89.9" r="0.46" fill="#d0c070"/><circle cx="36.5" cy="100.4" r="0.38" fill="#e0a090"/><circle cx="51.1" cy="113.0" r="0.66" fill="#d88070"/><circle cx="20.9" cy="95.4" r="0.54" fill="#d88070"/><circle cx="45.7" cy="89.9" r="0.58" fill="#b0aa68"/><circle cx="42.2" cy="84.2" r="0.45" fill="#b0aa68"/><circle cx="41.0" cy="86.1" r="0.57" fill="#d88070"/><circle cx="31.2" cy="88.0" r="0.67" fill="#c89a60"/><circle cx="43.5" cy="103.3" r="0.44" fill="#c8b060"/><circle cx="28.2" cy="106.0" r="0.55" fill="#c89a60"/><circle cx="49.7" cy="99.7" r="0.64" fill="#e0a090"/><circle cx="33.3" cy="95.1" r="0.36" fill="#d88070"/><circle cx="49.5" cy="109.6" r="0.65" fill="#d88070"/><circle cx="48.8" cy="94.1" r="0.57" fill="#b0aa68"/><circle cx="15.9" cy="94.4" r="0.41" fill="#d88070"/><circle cx="44.1" cy="94.3" r="0.58" fill="#c8b060"/><circle cx="45.4" cy="88.6" r="0.63" fill="#c89a60"/><circle cx="29.5" cy="85.9" r="0.67" fill="#d88070"/><circle cx="21.8" cy="109.6" r="0.43" fill="#c89a60"/><circle cx="38.4" cy="93.8" r="0.45" fill="#c89a60"/><circle cx="37.5" cy="93.9" r="0.69" fill="#e0a090"/><circle cx="48.5" cy="88.4" r="0.55" fill="#d88070"/><circle cx="9.4" cy="101.7" r="0.47" fill="#d0c070"/><circle cx="22.2" cy="102.1" r="0.53" fill="#98b070"/><circle cx="31.8" cy="110.0" r="0.59" fill="#c8b060"/><circle cx="41.9" cy="85.8" r="0.50" fill="#c8b060"/><circle cx="50.5" cy="102.7" r="0.58" fill="#c89a60"/><circle cx="41.1" cy="89.9" r="0.46" fill="#98b070"/><circle cx="22.8" cy="105.7" r="0.54" fill="#b0aa68"/><circle cx="39.2" cy="113.8" r="0.57" fill="#d88070"/><circle cx="26.5" cy="111.1" r="0.46" fill="#b0aa68"/><circle cx="27.6" cy="101.0" r="0.58" fill="#98b070"/><circle cx="28.2" cy="104.8" r="0.53" fill="#d0c070"/><circle cx="49.6" cy="109.6" r="0.41" fill="#c89a60"/><circle cx="20.8" cy="104.4" r="0.57" fill="#c89a60"/><circle cx="45.7" cy="107.8" r="0.59" fill="#b0aa68"/><circle cx="45.2" cy="83.8" r="0.37" fill="#98b070"/><circle cx="36.1" cy="108.5" r="0.51" fill="#c8b060"/><circle cx="34.4" cy="106.5" r="0.48" fill="#98b070"/><circle cx="19.0" cy="104.0" r="0.35" fill="#d0c070"/><circle cx="47.7" cy="113.2" r="0.62" fill="#b0aa68"/><circle cx="28.9" cy="109.8" r="0.58" fill="#e0a090"/><circle cx="49.1" cy="102.3" r="0.60" fill="#e0a090"/><circle cx="47.7" cy="95.9" r="0.61" fill="#d0c070"/><circle cx="37.3" cy="108.4" r="0.53" fill="#c8b060"/><circle cx="18.7" cy="95.5" r="0.60" fill="#b0aa68"/><circle cx="18.4" cy="105.5" r="0.60" fill="#c89a60"/><circle cx="26.9" cy="91.1" r="0.51" fill="#c89a60"/><circle cx="17.2" cy="94.7" r="0.67" fill="#e0a090"/><circle cx="48.6" cy="100.9" r="0.52" fill="#d88070"/><circle cx="21.5" cy="93.5" r="0.66" fill="#d0c070"/><circle cx="27.1" cy="107.7" r="0.54" fill="#e0a090"/><circle cx="49.4" cy="97.4" r="0.45" fill="#98b070"/><circle cx="39.2" cy="94.1" r="0.41" fill="#98b070"/><circle cx="35.2" cy="104.3" r="0.38" fill="#98b070"/><circle cx="13.9" cy="96.3" r="0.37" fill="#98b070"/><circle cx="22.9" cy="96.1" r="0.47" fill="#98b070"/><circle cx="27.2" cy="111.1" r="0.51" fill="#c8b060"/><circle cx="23.9" cy="103.8" r="0.62" fill="#c8b060"/><circle cx="36.6" cy="87.5" r="0.52" fill="#c89a60"/><circle cx="33.9" cy="86.7" r="0.59" fill="#d0c070"/><circle cx="24.8" cy="102.1" r="0.69" fill="#c8b060"/><circle cx="26.1" cy="106.4" r="0.38" fill="#c8b060"/><circle cx="46.3" cy="87.6" r="0.59" fill="#d88070"/><circle cx="47.2" cy="101.8" r="0.39" fill="#e0a090"/><circle cx="44.1" cy="91.8" r="0.50" fill="#d88070"/><circle cx="10.8" cy="103.7" r="0.35" fill="#98b070"/><circle cx="52.4" cy="103.2" r="0.64" fill="#c8b060"/><circle cx="31.9" cy="103.8" r="0.57" fill="#e0a090"/><circle cx="43.7" cy="96.5" r="0.64" fill="#e0a090"/><circle cx="29.3" cy="102.2" r="0.48" fill="#c89a60"/><circle cx="30.6" cy="90.9" r="0.52" fill="#d88070"/><circle cx="44.8" cy="91.5" r="0.66" fill="#c8b060"/><circle cx="48.6" cy="100.1" r="0.53" fill="#b0aa68"/><circle cx="30.4" cy="108.1" r="0.59" fill="#c8b060"/><circle cx="40.8" cy="95.8" r="0.36" fill="#d88070"/><circle cx="17.9" cy="105.5" r="0.46" fill="#e0a090"/><circle cx="24.8" cy="100.0" r="0.47" fill="#c8b060"/><circle cx="33.2" cy="92.0" r="0.51" fill="#d88070"/><circle cx="32.6" cy="108.3" r="0.41" fill="#b0aa68"/><circle cx="42.0" cy="89.0" r="0.56" fill="#d0c070"/><circle cx="32.0" cy="89.2" r="0.39" fill="#b0aa68"/><circle cx="21.4" cy="92.3" r="0.46" fill="#c8b060"/><circle cx="32.5" cy="88.9" r="0.69" fill="#e0a090"/><circle cx="37.3" cy="107.9" r="0.39" fill="#c89a60"/><circle cx="34.4" cy="96.6" r="0.50" fill="#b0aa68"/><circle cx="34.5" cy="105.3" r="0.40" fill="#d0c070"/><circle cx="33.8" cy="90.1" r="0.70" fill="#c89a60"/><circle cx="33.6" cy="94.5" r="0.56" fill="#e0a090"/><circle cx="18.1" cy="98.7" r="0.51" fill="#98b070"/><circle cx="21.5" cy="101.4" r="0.50" fill="#e0a090"/><circle cx="36.5" cy="102.2" r="0.61" fill="#d0c070"/><circle cx="38.4" cy="84.2" r="0.41" fill="#c89a60"/><circle cx="39.7" cy="96.7" r="0.36" fill="#d88070"/><circle cx="40.5" cy="105.9" r="0.51" fill="#c8b060"/><circle cx="44.5" cy="101.4" r="0.63" fill="#b0aa68"/><circle cx="27.4" cy="99.6" r="0.58" fill="#d88070"/><circle cx="42.5" cy="100.6" r="0.45" fill="#c89a60"/><circle cx="29.4" cy="90.1" r="0.49" fill="#d88070"/><circle cx="30.9" cy="97.6" r="0.38" fill="#c89a60"/><circle cx="49.0" cy="107.2" r="0.56" fill="#c89a60"/><circle cx="46.6" cy="100.8" r="0.68" fill="#d0c070"/><circle cx="38.9" cy="88.7" r="0.36" fill="#d0c070"/><circle cx="15.8" cy="98.6" r="0.50" fill="#d88070"/><circle cx="16.1" cy="101.2" r="0.57" fill="#98b070"/><circle cx="26.6" cy="90.7" r="0.39" fill="#b0aa68"/><circle cx="23.0" cy="105.5" r="0.45" fill="#98b070"/><circle cx="45.5" cy="99.8" r="0.51" fill="#d88070"/><circle cx="43.6" cy="112.3" r="0.64" fill="#c89a60"/><circle cx="38.2" cy="99.5" r="0.49" fill="#b0aa68"/><circle cx="31.8" cy="102.7" r="0.52" fill="#98b070"/><circle cx="43.0" cy="86.1" r="0.54" fill="#d88070"/><circle cx="28.0" cy="105.7" r="0.39" fill="#c8b060"/><circle cx="36.0" cy="87.5" r="0.41" fill="#e0a090"/><circle cx="37.8" cy="84.1" r="0.68" fill="#d88070"/><circle cx="31.3" cy="88.9" r="0.64" fill="#98b070"/><circle cx="19.0" cy="99.9" r="0.48" fill="#e0a090"/><circle cx="31.3" cy="112.9" r="0.65" fill="#d88070"/><circle cx="43.6" cy="111.9" r="0.47" fill="#d0c070"/><circle cx="31.3" cy="110.6" r="0.45" fill="#d88070"/><circle cx="46.6" cy="101.0" r="0.58" fill="#d0c070"/><circle cx="14.5" cy="99.4" r="0.47" fill="#e0a090"/><circle cx="43.1" cy="93.0" r="0.68" fill="#d0c070"/><circle cx="16.4" cy="105.7" r="0.55" fill="#b0aa68"/><circle cx="47.5" cy="94.3" r="0.46" fill="#98b070"/><circle cx="40.5" cy="110.2" r="0.49" fill="#c8b060"/><circle cx="44.5" cy="103.9" r="0.40" fill="#c89a60"/><circle cx="44.0" cy="88.5" r="0.57" fill="#98b070"/><circle cx="37.9" cy="111.8" r="0.65" fill="#d0c070"/><circle cx="36.8" cy="113.2" r="0.52" fill="#e0a090"/><circle cx="37.0" cy="114.6" r="0.70" fill="#c8b060"/><circle cx="43.0" cy="105.9" r="0.39" fill="#b0aa68"/><circle cx="39.9" cy="113.9" r="0.37" fill="#d0c070"/><circle cx="27.7" cy="87.7" r="0.49" fill="#c8b060"/><circle cx="44.5" cy="84.7" r="0.38" fill="#d0c070"/><circle cx="25.4" cy="105.1" r="0.52" fill="#e0a090"/><circle cx="14.3" cy="96.3" r="0.44" fill="#d88070"/><circle cx="38.7" cy="113.7" r="0.51" fill="#d88070"/><circle cx="39.2" cy="84.3" r="0.50" fill="#d88070"/><circle cx="52.4" cy="105.4" r="0.51" fill="#d88070"/><circle cx="30.1" cy="87.4" r="0.55" fill="#e0a090"/><circle cx="21.4" cy="105.8" r="0.36" fill="#d0c070"/><circle cx="38.3" cy="88.9" r="0.55" fill="#c8b060"/><circle cx="43.9" cy="116.7" r="0.67" fill="#c8b060"/><circle cx="20.9" cy="109.7" r="0.56" fill="#d88070"/><circle cx="19.3" cy="108.0" r="0.62" fill="#c8b060"/><circle cx="46.7" cy="102.9" r="0.67" fill="#c8b060"/><circle cx="22.8" cy="94.5" r="0.42" fill="#d0c070"/><circle cx="46.3" cy="88.2" r="0.64" fill="#98b070"/><circle cx="48.2" cy="109.9" r="0.51" fill="#c89a60"/><circle cx="47.7" cy="106.8" r="0.69" fill="#d0c070"/><circle cx="45.1" cy="92.5" r="0.63" fill="#c89a60"/><circle cx="24.8" cy="107.7" r="0.44" fill="#98b070"/><circle cx="45.9" cy="115.3" r="0.39" fill="#b0aa68"/><circle cx="29.6" cy="102.6" r="0.68" fill="#d88070"/><circle cx="28.7" cy="104.6" r="0.61" fill="#e0a090"/><circle cx="27.1" cy="107.5" r="0.40" fill="#98b070"/><circle cx="38.1" cy="111.1" r="0.57" fill="#d88070"/><circle cx="39.6" cy="99.6" r="0.69" fill="#d88070"/><circle cx="17.5" cy="103.4" r="0.69" fill="#c89a60"/><circle cx="44.3" cy="87.7" r="0.39" fill="#e0a090"/><circle cx="33.4" cy="101.3" r="0.63" fill="#b0aa68"/><circle cx="15.7" cy="104.2" r="0.36" fill="#c89a60"/><circle cx="24.3" cy="109.3" r="0.56" fill="#c89a60"/><circle cx="42.2" cy="98.9" r="0.61" fill="#98b070"/><circle cx="28.5" cy="92.4" r="0.56" fill="#98b070"/><circle cx="48.0" cy="98.7" r="0.51" fill="#c89a60"/><circle cx="26.3" cy="105.2" r="0.52" fill="#98b070"/><circle cx="20.4" cy="103.1" r="0.54" fill="#d88070"/><circle cx="25.4" cy="101.7" r="0.45" fill="#e0a090"/><circle cx="40.3" cy="111.9" r="0.58" fill="#d0c070"/><circle cx="33.3" cy="112.4" r="0.50" fill="#b0aa68"/><circle cx="26.9" cy="110.8" r="0.49" fill="#c8b060"/><circle cx="38.6" cy="92.9" r="0.40" fill="#98b070"/><circle cx="42.0" cy="110.2" r="0.54" fill="#e0a090"/><circle cx="52.2" cy="100.3" r="0.58" fill="#98b070"/><circle cx="24.1" cy="104.4" r="0.61" fill="#d0c070"/><circle cx="12.4" cy="98.1" r="0.40" fill="#98b070"/><circle cx="47.0" cy="92.6" r="0.62" fill="#e0a090"/><circle cx="18.1" cy="95.0" r="0.55" fill="#d0c070"/><circle cx="45.7" cy="102.4" r="0.57" fill="#c89a60"/><circle cx="36.0" cy="104.1" r="0.59" fill="#c89a60"/><circle cx="16.0" cy="105.9" r="0.46" fill="#d88070"/><circle cx="14.3" cy="104.1" r="0.37" fill="#c8b060"/><circle cx="42.4" cy="86.5" r="0.50" fill="#d88070"/><circle cx="35.4" cy="113.1" r="0.40" fill="#d0c070"/><circle cx="36.4" cy="104.8" r="0.45" fill="#c8b060"/><circle cx="27.4" cy="102.1" r="0.49" fill="#b0aa68"/><circle cx="42.8" cy="82.5" r="0.50" fill="#d88070"/><circle cx="39.2" cy="101.5" r="0.53" fill="#d88070"/><circle cx="42.4" cy="85.0" r="0.48" fill="#c8b060"/><circle cx="18.3" cy="100.2" r="0.58" fill="#d88070"/><circle cx="50.5" cy="112.2" r="0.55" fill="#e0a090"/><circle cx="26.4" cy="103.4" r="0.45" fill="#98b070"/><circle cx="44.9" cy="102.5" r="0.64" fill="#d88070"/><circle cx="18.9" cy="101.4" r="0.53" fill="#98b070"/><circle cx="48.2" cy="107.6" r="0.43" fill="#d0c070"/><circle cx="15.4" cy="98.3" r="0.39" fill="#e0a090"/><circle cx="37.7" cy="83.9" r="0.39" fill="#d88070"/><circle cx="16.8" cy="101.9" r="0.62" fill="#c8b060"/><circle cx="36.9" cy="96.4" r="0.55" fill="#e0a090"/><circle cx="33.9" cy="103.2" r="0.57" fill="#d0c070"/><circle cx="28.1" cy="96.6" r="0.57" fill="#d0c070"/><circle cx="31.2" cy="90.3" r="0.51" fill="#c89a60"/><circle cx="24.8" cy="89.4" r="0.58" fill="#d0c070"/><circle cx="11.8" cy="101.6" r="0.48" fill="#e0a090"/><circle cx="33.4" cy="109.4" r="0.66" fill="#98b070"/><circle cx="50.0" cy="100.7" r="0.42" fill="#e0a090"/><circle cx="49.5" cy="91.6" r="0.60" fill="#e0a090"/><circle cx="32.0" cy="102.2" r="0.48" fill="#d88070"/><circle cx="25.7" cy="108.7" r="0.59" fill="#c89a60"/><circle cx="44.4" cy="103.7" r="0.37" fill="#c89a60"/><circle cx="33.6" cy="93.3" r="0.44" fill="#d0c070"/><circle cx="38.2" cy="114.0" r="0.66" fill="#d88070"/><circle cx="11.4" cy="104.3" r="0.67" fill="#d88070"/><circle cx="52.7" cy="105.7" r="0.49" fill="#e0a090"/><circle cx="40.6" cy="81.4" r="0.55" fill="#c8b060"/><circle cx="44.5" cy="110.3" r="0.58" fill="#d0c070"/><circle cx="38.8" cy="98.2" r="0.36" fill="#d88070"/><circle cx="51.8" cy="97.3" r="0.43" fill="#b0aa68"/><circle cx="44.3" cy="98.2" r="0.54" fill="#c8b060"/><circle cx="23.3" cy="108.4" r="0.40" fill="#98b070"/><circle cx="39.9" cy="102.8" r="0.67" fill="#c8b060"/><circle cx="28.0" cy="94.3" r="0.59" fill="#b0aa68"/><circle cx="52.8" cy="102.2" r="0.61" fill="#d0c070"/><circle cx="28.5" cy="99.2" r="0.46" fill="#d0c070"/><circle cx="44.2" cy="113.9" r="0.42" fill="#c8b060"/><circle cx="29.1" cy="89.2" r="0.48" fill="#e0a090"/><circle cx="16.9" cy="102.0" r="0.66" fill="#c89a60"/><circle cx="37.5" cy="112.7" r="0.54" fill="#c89a60"/><circle cx="40.8" cy="98.5" r="0.39" fill="#c89a60"/><circle cx="43.2" cy="88.8" r="0.67" fill="#b0aa68"/><circle cx="50.0" cy="110.4" r="0.66" fill="#c89a60"/><circle cx="26.9" cy="93.7" r="0.48" fill="#98b070"/><circle cx="46.7" cy="103.8" r="0.63" fill="#b0aa68"/><circle cx="29.6" cy="111.0" r="0.62" fill="#98b070"/><circle cx="46.5" cy="99.8" r="0.60" fill="#e0a090"/><circle cx="27.3" cy="108.8" r="0.43" fill="#c89a60"/><circle cx="44.6" cy="96.1" r="0.39" fill="#98b070"/><circle cx="31.6" cy="87.6" r="0.40" fill="#98b070"/><circle cx="34.2" cy="85.4" r="0.58" fill="#e0a090"/><circle cx="32.1" cy="98.1" r="0.70" fill="#e0a090"/><circle cx="25.0" cy="107.7" r="0.47" fill="#c89a60"/><circle cx="23.7" cy="107.1" r="0.57" fill="#d0c070"/><circle cx="34.7" cy="108.0" r="0.40" fill="#d88070"/><circle cx="33.0" cy="110.3" r="0.41" fill="#d0c070"/><circle cx="13.9" cy="106.4" r="0.68" fill="#c89a60"/><circle cx="51.1" cy="98.5" r="0.70" fill="#e0a090"/><circle cx="37.7" cy="89.4" r="0.65" fill="#c89a60"/><circle cx="47.9" cy="91.2" r="0.39" fill="#d88070"/><circle cx="28.0" cy="93.9" r="0.50" fill="#98b070"/><circle cx="39.9" cy="92.6" r="0.63" fill="#d88070"/><circle cx="44.9" cy="106.9" r="0.38" fill="#e0a090"/><circle cx="22.9" cy="89.7" r="0.51" fill="#c8b060"/><circle cx="27.5" cy="105.4" r="0.47" fill="#c89a60"/><circle cx="41.5" cy="114.2" r="0.57" fill="#98b070"/><circle cx="37.3" cy="92.4" r="0.63" fill="#c8b060"/><circle cx="47.1" cy="104.9" r="0.50" fill="#b0aa68"/><circle cx="24.7" cy="93.2" r="0.55" fill="#e0a090"/><circle cx="14.8" cy="95.9" r="0.48" fill="#98b070"/><circle cx="43.2" cy="100.8" r="0.54" fill="#98b070"/><circle cx="16.3" cy="98.6" r="0.67" fill="#c89a60"/><circle cx="47.3" cy="95.9" r="0.66" fill="#98b070"/><circle cx="38.7" cy="106.2" r="0.54" fill="#d88070"/><circle cx="49.1" cy="111.8" r="0.60" fill="#c8b060"/><circle cx="37.3" cy="109.5" r="0.53" fill="#c89a60"/><circle cx="18.6" cy="97.6" r="0.48" fill="#e0a090"/><circle cx="24.8" cy="109.9" r="0.54" fill="#e0a090"/><circle cx="26.2" cy="106.5" r="0.52" fill="#98b070"/><circle cx="43.4" cy="110.7" r="0.38" fill="#d88070"/><circle cx="37.5" cy="95.9" r="0.59" fill="#d88070"/><circle cx="33.3" cy="101.3" r="0.62" fill="#b0aa68"/><circle cx="22.6" cy="106.2" r="0.47" fill="#e0a090"/><circle cx="49.3" cy="111.6" r="0.44" fill="#c8b060"/><circle cx="36.7" cy="102.4" r="0.38" fill="#c8b060"/><circle cx="14.8" cy="104.2" r="0.60" fill="#e0a090"/><circle cx="43.5" cy="88.5" r="0.42" fill="#e0a090"/><circle cx="27.0" cy="103.4" r="0.52" fill="#c8b060"/><circle cx="33.0" cy="103.5" r="0.46" fill="#b0aa68"/><circle cx="45.1" cy="105.2" r="0.45" fill="#c89a60"/><circle cx="72.5" cy="120.3" r="0.50" fill="#98b070"/><circle cx="59.4" cy="122.7" r="0.38" fill="#d88070"/><circle cx="80.5" cy="139.0" r="0.50" fill="#b0aa68"/><circle cx="73.5" cy="121.1" r="0.41" fill="#e0a090"/><circle cx="66.6" cy="118.5" r="0.49" fill="#98b070"/><circle cx="71.4" cy="128.6" r="0.54" fill="#c89a60"/><circle cx="73.7" cy="136.3" r="0.48" fill="#98b070"/><circle cx="62.4" cy="123.7" r="0.49" fill="#98b070"/><circle cx="66.9" cy="129.4" r="0.37" fill="#b0aa68"/><circle cx="73.3" cy="137.4" r="0.53" fill="#b0aa68"/><circle cx="70.0" cy="129.8" r="0.46" fill="#e0a090"/><circle cx="61.0" cy="126.5" r="0.57" fill="#d88070"/><circle cx="69.6" cy="129.5" r="0.53" fill="#98b070"/><circle cx="73.1" cy="124.0" r="0.64" fill="#d88070"/><circle cx="61.4" cy="119.0" r="0.50" fill="#d88070"/><circle cx="75.9" cy="135.3" r="0.59" fill="#c89a60"/><circle cx="69.7" cy="123.1" r="0.58" fill="#e0a090"/><circle cx="69.2" cy="120.6" r="0.57" fill="#e0a090"/><circle cx="64.1" cy="127.0" r="0.42" fill="#e0a090"/><circle cx="78.2" cy="135.6" r="0.37" fill="#b0aa68"/><circle cx="67.2" cy="131.0" r="0.70" fill="#98b070"/><circle cx="67.4" cy="124.4" r="0.41" fill="#e0a090"/><circle cx="61.7" cy="125.5" r="0.62" fill="#c8c060"/><circle cx="73.0" cy="134.4" r="0.52" fill="#98b070"/><circle cx="61.9" cy="127.8" r="0.44" fill="#98b070"/><circle cx="59.5" cy="119.0" r="0.61" fill="#b0aa68"/><circle cx="73.4" cy="118.8" r="0.62" fill="#c89a60"/><circle cx="71.3" cy="136.1" r="0.45" fill="#d88070"/><circle cx="80.2" cy="140.3" r="0.41" fill="#b0aa68"/><circle cx="77.1" cy="137.0" r="0.42" fill="#c8c060"/><circle cx="81.0" cy="140.6" r="0.66" fill="#c89a60"/><circle cx="71.3" cy="135.1" r="0.35" fill="#d88070"/><circle cx="75.7" cy="131.1" r="0.62" fill="#b0aa68"/><circle cx="70.1" cy="133.0" r="0.49" fill="#98b070"/><circle cx="67.1" cy="118.4" r="0.58" fill="#b0aa68"/><circle cx="63.0" cy="127.9" r="0.44" fill="#d88070"/><circle cx="72.6" cy="117.7" r="0.39" fill="#d88070"/><circle cx="79.8" cy="139.6" r="0.62" fill="#c8c060"/><circle cx="57.9" cy="119.6" r="0.40" fill="#c8c060"/><circle cx="74.7" cy="137.4" r="0.64" fill="#b0aa68"/><circle cx="72.3" cy="131.9" r="0.63" fill="#e0a090"/><circle cx="66.8" cy="131.3" r="0.40" fill="#d88070"/><circle cx="72.3" cy="135.1" r="0.52" fill="#e0a090"/><circle cx="65.0" cy="117.6" r="0.40" fill="#98b070"/><circle cx="65.3" cy="117.6" r="0.51" fill="#d88070"/><circle cx="73.6" cy="126.6" r="0.64" fill="#c8c060"/><circle cx="67.9" cy="117.7" r="0.66" fill="#98b070"/><circle cx="75.0" cy="136.4" r="0.69" fill="#c8c060"/><circle cx="77.1" cy="136.1" r="0.69" fill="#98b070"/><circle cx="72.0" cy="130.5" r="0.54" fill="#b0aa68"/><circle cx="58.8" cy="125.3" r="0.45" fill="#c8c060"/><circle cx="71.6" cy="132.4" r="0.68" fill="#c89a60"/><circle cx="69.6" cy="127.9" r="0.59" fill="#c89a60"/><circle cx="74.6" cy="136.7" r="0.40" fill="#d88070"/><circle cx="69.0" cy="131.4" r="0.62" fill="#d88070"/><circle cx="64.0" cy="123.4" r="0.54" fill="#e0a090"/><circle cx="78.5" cy="140.3" r="0.57" fill="#98b070"/><circle cx="68.4" cy="117.3" r="0.47" fill="#c8c060"/><circle cx="72.0" cy="136.9" r="0.46" fill="#98b070"/><circle cx="63.8" cy="124.0" r="0.41" fill="#e0a090"/><circle cx="76.2" cy="140.3" r="0.55" fill="#98b070"/><circle cx="68.4" cy="119.7" r="0.44" fill="#b0aa68"/><circle cx="61.4" cy="118.2" r="0.51" fill="#d88070"/><circle cx="57.0" cy="123.2" r="0.59" fill="#e0a090"/><circle cx="76.1" cy="131.7" r="0.59" fill="#b0aa68"/><circle cx="62.3" cy="123.0" r="0.53" fill="#98b070"/><circle cx="73.6" cy="136.3" r="0.46" fill="#b0aa68"/><circle cx="62.6" cy="127.1" r="0.55" fill="#b0aa68"/><circle cx="68.3" cy="131.6" r="0.60" fill="#d88070"/><circle cx="55.8" cy="124.8" r="0.48" fill="#b0aa68"/><circle cx="72.4" cy="122.9" r="0.64" fill="#c8c060"/><circle cx="71.1" cy="129.1" r="0.41" fill="#d88070"/><circle cx="77.4" cy="141.1" r="0.58" fill="#c89a60"/><circle cx="71.8" cy="132.4" r="0.52" fill="#98b070"/><circle cx="73.6" cy="130.3" r="0.45" fill="#e0a090"/><circle cx="76.4" cy="134.0" r="0.63" fill="#b0aa68"/><circle cx="55.7" cy="121.2" r="0.53" fill="#d88070"/><circle cx="59.4" cy="126.6" r="0.48" fill="#98b070"/><circle cx="65.4" cy="122.5" r="0.59" fill="#d88070"/><circle cx="78.1" cy="139.6" r="0.52" fill="#c89a60"/><circle cx="71.6" cy="120.9" r="0.65" fill="#c89a60"/><circle cx="74.5" cy="135.0" r="0.49" fill="#c89a60"/><circle cx="72.2" cy="130.4" r="0.48" fill="#c8c060"/><circle cx="73.6" cy="129.4" r="0.69" fill="#c89a60"/><circle cx="54.1" cy="122.3" r="0.38" fill="#e0a090"/><circle cx="52.0" cy="123.3" r="0.70" fill="#98b070"/><circle cx="62.8" cy="121.0" r="0.56" fill="#98b070"/><circle cx="75.9" cy="135.0" r="0.38" fill="#b0aa68"/><circle cx="62.3" cy="118.5" r="0.68" fill="#98b070"/><circle cx="62.3" cy="123.2" r="0.40" fill="#b0aa68"/><circle cx="67.0" cy="118.8" r="0.38" fill="#e0a090"/><circle cx="61.2" cy="126.3" r="0.45" fill="#98b070"/><circle cx="75.3" cy="135.3" r="0.55" fill="#b0aa68"/><circle cx="68.9" cy="120.6" r="0.48" fill="#b0aa68"/><circle cx="59.5" cy="123.2" r="0.40" fill="#b0aa68"/><circle cx="64.6" cy="127.3" r="0.52" fill="#c89a60"/><circle cx="73.5" cy="129.2" r="0.57" fill="#98b070"/><circle cx="54.4" cy="124.2" r="0.68" fill="#d88070"/><circle cx="71.3" cy="131.9" r="0.46" fill="#e0a090"/><circle cx="72.7" cy="129.1" r="0.55" fill="#b0aa68"/><circle cx="61.2" cy="123.5" r="0.63" fill="#d88070"/><circle cx="69.5" cy="130.6" r="0.59" fill="#e0a090"/><circle cx="75.9" cy="138.1" r="0.37" fill="#98b070"/><circle cx="72.0" cy="119.8" r="0.46" fill="#d88070"/><circle cx="71.6" cy="135.1" r="0.63" fill="#c89a60"/><circle cx="69.2" cy="130.3" r="0.67" fill="#c8c060"/><circle cx="64.1" cy="117.1" r="0.69" fill="#c8c060"/><circle cx="70.9" cy="118.4" r="0.62" fill="#c8c060"/><circle cx="71.8" cy="120.5" r="0.56" fill="#e0a090"/><circle cx="51.4" cy="123.0" r="0.53" fill="#e0a090"/><circle cx="58.0" cy="126.0" r="0.51" fill="#c8c060"/><circle cx="69.4" cy="129.4" r="0.47" fill="#c89a60"/><circle cx="66.1" cy="123.9" r="0.67" fill="#c89a60"/><circle cx="55.5" cy="124.4" r="0.51" fill="#b0aa68"/><circle cx="67.3" cy="125.3" r="0.38" fill="#c8c060"/><circle cx="72.8" cy="124.6" r="0.46" fill="#c8c060"/><circle cx="71.3" cy="134.0" r="0.41" fill="#c8c060"/><circle cx="58.7" cy="120.7" r="0.41" fill="#e0a090"/><circle cx="64.4" cy="128.3" r="0.63" fill="#c8c060"/><circle cx="64.5" cy="116.9" r="0.56" fill="#b0aa68"/><circle cx="65.1" cy="127.5" r="0.35" fill="#b0aa68"/><circle cx="56.9" cy="124.7" r="0.51" fill="#d88070"/><circle cx="72.0" cy="129.1" r="0.69" fill="#d88070"/><circle cx="69.7" cy="132.3" r="0.56" fill="#d88070"/><circle cx="62.0" cy="128.2" r="0.41" fill="#c8c060"/><circle cx="73.1" cy="124.0" r="0.57" fill="#c89a60"/><circle cx="72.0" cy="124.4" r="0.43" fill="#c89a60"/><circle cx="67.0" cy="127.2" r="0.40" fill="#98b070"/><circle cx="64.3" cy="129.0" r="0.54" fill="#c8c060"/><circle cx="56.3" cy="123.8" r="0.42" fill="#98b070"/><circle cx="57.2" cy="126.3" r="0.55" fill="#c8c060"/><circle cx="66.3" cy="118.3" r="0.36" fill="#b0aa68"/><circle cx="60.2" cy="123.4" r="0.54" fill="#b0aa68"/><circle cx="75.4" cy="131.1" r="0.62" fill="#98b070"/><circle cx="68.2" cy="119.1" r="0.39" fill="#e0a090"/><circle cx="73.5" cy="130.6" r="0.70" fill="#c89a60"/><circle cx="74.0" cy="133.4" r="0.44" fill="#c89a60"/><circle cx="65.1" cy="125.3" r="0.64" fill="#98b070"/><circle cx="74.0" cy="134.4" r="0.65" fill="#e0a090"/><circle cx="70.8" cy="120.5" r="0.40" fill="#b0aa68"/><circle cx="76.4" cy="137.4" r="0.55" fill="#e0a090"/><circle cx="60.1" cy="123.2" r="0.65" fill="#c8c060"/><circle cx="74.4" cy="127.0" r="0.37" fill="#d88070"/><circle cx="73.2" cy="138.1" r="0.62" fill="#c8c060"/><circle cx="63.3" cy="119.9" r="0.57" fill="#c8c060"/><circle cx="64.0" cy="128.1" r="0.57" fill="#c89a60"/><circle cx="65.2" cy="129.0" r="0.55" fill="#c8c060"/><circle cx="70.8" cy="134.6" r="0.65" fill="#e0a090"/><circle cx="61.1" cy="123.6" r="0.54" fill="#b0aa68"/><circle cx="68.7" cy="129.0" r="0.47" fill="#c8c060"/><circle cx="122.4" cy="106.4" r="0.53" fill="#e8a080"/><circle cx="125.9" cy="124.3" r="0.34" fill="#e07068"/><circle cx="92.1" cy="103.2" r="0.54" fill="#f8c0c8"/><circle cx="137.3" cy="106.7" r="0.58" fill="#f8c0c8"/><circle cx="81.9" cy="100.0" r="0.57" fill="#f8c0c8"/><circle cx="127.8" cy="96.5" r="0.48" fill="#e86080"/><circle cx="101.0" cy="130.2" r="0.68" fill="#f070a0"/><circle cx="78.3" cy="85.6" r="0.64" fill="#e86080"/><circle cx="95.5" cy="116.9" r="0.40" fill="#e86080"/><circle cx="131.6" cy="64.0" r="0.46" fill="#f09090"/><circle cx="84.0" cy="67.4" r="0.39" fill="#e07068"/><circle cx="113.0" cy="108.7" r="0.69" fill="#f070a0"/><circle cx="103.4" cy="98.0" r="0.56" fill="#f09090"/><circle cx="97.5" cy="66.7" r="0.38" fill="#e07068"/><circle cx="107.6" cy="70.8" r="0.44" fill="#e07068"/><circle cx="134.9" cy="53.7" r="0.63" fill="#f09090"/><circle cx="101.7" cy="101.8" r="0.53" fill="#e86080"/><circle cx="106.4" cy="111.0" r="0.45" fill="#f0a0b8"/><circle cx="94.5" cy="126.6" r="0.55" fill="#f09090"/><circle cx="102.5" cy="109.9" r="0.61" fill="#e86080"/><circle cx="93.5" cy="120.0" r="0.32" fill="#f09090"/><circle cx="117.3" cy="136.3" r="0.67" fill="#e07068"/><circle cx="114.7" cy="57.2" r="0.32" fill="#e8a080"/><circle cx="89.8" cy="91.6" r="0.67" fill="#f09090"/><circle cx="134.8" cy="125.1" r="0.36" fill="#f8c0c8"/><circle cx="90.2" cy="97.7" r="0.42" fill="#f8c0c8"/><circle cx="95.7" cy="57.4" r="0.58" fill="#e8a080"/><circle cx="122.2" cy="126.9" r="0.41" fill="#f09090"/><circle cx="134.5" cy="43.3" r="0.40" fill="#f070a0"/><circle cx="101.9" cy="111.7" r="0.66" fill="#f070a0"/><circle cx="119.8" cy="82.6" r="0.43" fill="#f09090"/><circle cx="114.6" cy="104.7" r="0.34" fill="#f0a0b8"/><circle cx="117.0" cy="122.3" r="0.44" fill="#f0a0b8"/><circle cx="121.1" cy="87.1" r="0.38" fill="#f8c0c8"/><circle cx="101.4" cy="83.7" r="0.49" fill="#f09090"/><circle cx="84.4" cy="98.3" r="0.59" fill="#e07068"/><circle cx="110.4" cy="99.7" r="0.41" fill="#f09090"/><circle cx="120.6" cy="106.7" r="0.46" fill="#e86080"/><circle cx="96.1" cy="112.9" r="0.43" fill="#f8c0c8"/><circle cx="105.1" cy="103.3" r="0.38" fill="#e07068"/><circle cx="104.1" cy="116.5" r="0.53" fill="#f09090"/><circle cx="94.1" cy="120.7" r="0.55" fill="#f070a0"/><circle cx="107.3" cy="134.1" r="0.52" fill="#e86080"/><circle cx="130.7" cy="107.5" r="0.45" fill="#f09090"/><circle cx="88.9" cy="103.9" r="0.65" fill="#e07068"/><circle cx="125.5" cy="86.5" r="0.37" fill="#e07068"/><circle cx="125.1" cy="120.8" r="0.34" fill="#e8a080"/><circle cx="94.8" cy="107.1" r="0.43" fill="#e86080"/><circle cx="122.3" cy="124.4" r="0.58" fill="#f8c0c8"/><circle cx="105.2" cy="78.1" r="0.58" fill="#e8a080"/><circle cx="105.4" cy="126.9" r="0.53" fill="#f0a0b8"/><circle cx="117.9" cy="132.5" r="0.66" fill="#e8a080"/><circle cx="98.6" cy="136.7" r="0.32" fill="#f0a0b8"/><circle cx="94.1" cy="114.6" r="0.61" fill="#f0a0b8"/><circle cx="133.5" cy="116.4" r="0.47" fill="#f0a0b8"/><circle cx="104.1" cy="134.6" r="0.32" fill="#f09090"/><circle cx="106.4" cy="107.3" r="0.70" fill="#f0a0b8"/><circle cx="90.6" cy="111.3" r="0.59" fill="#e8a080"/><circle cx="73.7" cy="81.2" r="0.51" fill="#e8a080"/><circle cx="88.5" cy="108.9" r="0.32" fill="#f0a0b8"/><circle cx="110.0" cy="63.0" r="0.34" fill="#f070a0"/><circle cx="137.3" cy="105.6" r="0.34" fill="#e8a080"/><circle cx="108.2" cy="135.8" r="0.32" fill="#e07068"/><circle cx="95.4" cy="118.6" r="0.60" fill="#f070a0"/><circle cx="105.5" cy="126.8" r="0.35" fill="#f8c0c8"/><circle cx="134.8" cy="106.5" r="0.45" fill="#e86080"/><circle cx="110.6" cy="127.0" r="0.33" fill="#f8c0c8"/><circle cx="97.2" cy="109.0" r="0.61" fill="#e8a080"/><circle cx="112.0" cy="93.9" r="0.63" fill="#f070a0"/><circle cx="108.4" cy="118.5" r="0.64" fill="#f0a0b8"/><circle cx="74.4" cy="79.5" r="0.52" fill="#e07068"/><circle cx="113.2" cy="108.8" r="0.37" fill="#f09090"/><circle cx="108.2" cy="97.8" r="0.69" fill="#f070a0"/><circle cx="119.2" cy="126.5" r="0.45" fill="#e8a080"/><circle cx="88.5" cy="101.2" r="0.44" fill="#f8c0c8"/><circle cx="125.0" cy="95.1" r="0.56" fill="#f0a0b8"/><circle cx="91.3" cy="116.9" r="0.42" fill="#f8c0c8"/><circle cx="121.8" cy="109.5" r="0.54" fill="#f8c0c8"/><circle cx="83.0" cy="97.2" r="0.43" fill="#f8c0c8"/><circle cx="96.2" cy="117.4" r="0.33" fill="#f8c0c8"/><circle cx="89.8" cy="113.8" r="0.70" fill="#e07068"/><circle cx="130.9" cy="103.6" r="0.44" fill="#f09090"/><circle cx="102.7" cy="92.9" r="0.66" fill="#e07068"/><circle cx="114.1" cy="101.4" r="0.55" fill="#f09090"/><circle cx="121.5" cy="82.4" r="0.57" fill="#e8a080"/><circle cx="100.5" cy="89.3" r="0.57" fill="#e8a080"/><circle cx="109.5" cy="92.3" r="0.46" fill="#e07068"/><circle cx="130.1" cy="111.1" r="0.66" fill="#e07068"/><circle cx="108.5" cy="93.9" r="0.33" fill="#f070a0"/><circle cx="100.5" cy="105.8" r="0.41" fill="#f070a0"/><circle cx="106.6" cy="122.3" r="0.59" fill="#f0a0b8"/><circle cx="137.8" cy="124.2" r="0.52" fill="#e86080"/><circle cx="132.2" cy="60.9" r="0.40" fill="#e8a080"/><circle cx="109.4" cy="116.0" r="0.39" fill="#e07068"/><circle cx="118.4" cy="124.0" r="0.50" fill="#f070a0"/><circle cx="85.8" cy="90.4" r="0.37" fill="#e8a080"/><circle cx="109.2" cy="84.6" r="0.69" fill="#e86080"/><circle cx="117.6" cy="95.9" r="0.45" fill="#e8a080"/><circle cx="102.0" cy="128.9" r="0.44" fill="#e07068"/><circle cx="99.6" cy="117.7" r="0.30" fill="#f09090"/><circle cx="104.9" cy="72.4" r="0.57" fill="#f0a0b8"/><circle cx="119.2" cy="95.2" r="0.59" fill="#f8c0c8"/><circle cx="89.7" cy="99.4" r="0.49" fill="#f09090"/><circle cx="93.4" cy="111.0" r="0.48" fill="#e8a080"/><circle cx="78.3" cy="77.1" r="0.31" fill="#e8a080"/><circle cx="109.6" cy="100.2" r="0.61" fill="#e8a080"/><circle cx="106.0" cy="132.0" r="0.61" fill="#e86080"/><circle cx="94.8" cy="125.9" r="0.38" fill="#f8c0c8"/><circle cx="113.2" cy="90.9" r="0.38" fill="#e07068"/><circle cx="97.3" cy="75.5" r="0.56" fill="#e86080"/><circle cx="86.5" cy="88.4" r="0.64" fill="#e07068"/><circle cx="112.3" cy="108.4" r="0.57" fill="#e86080"/><circle cx="94.9" cy="121.3" r="0.44" fill="#e07068"/><circle cx="94.3" cy="99.4" r="0.67" fill="#e8a080"/><circle cx="92.3" cy="83.4" r="0.49" fill="#f09090"/><circle cx="124.9" cy="120.5" r="0.67" fill="#f0a0b8"/><circle cx="87.6" cy="112.2" r="0.40" fill="#e86080"/><circle cx="103.3" cy="107.3" r="0.69" fill="#f8c0c8"/><circle cx="112.9" cy="70.9" r="0.57" fill="#f0a0b8"/><circle cx="93.0" cy="93.8" r="0.49" fill="#e8a080"/><circle cx="105.3" cy="113.7" r="0.46" fill="#f0a0b8"/><circle cx="109.7" cy="101.7" r="0.43" fill="#e86080"/><circle cx="132.7" cy="83.8" r="0.55" fill="#f0a0b8"/><circle cx="117.0" cy="123.2" r="0.36" fill="#f09090"/><circle cx="97.1" cy="104.0" r="0.54" fill="#f0a0b8"/><circle cx="104.9" cy="58.0" r="0.59" fill="#f8c0c8"/><circle cx="92.4" cy="112.9" r="0.38" fill="#f0a0b8"/><circle cx="113.3" cy="102.7" r="0.44" fill="#e8a080"/><circle cx="104.7" cy="55.3" r="0.51" fill="#e07068"/><circle cx="95.6" cy="62.7" r="0.45" fill="#f0a0b8"/><circle cx="92.2" cy="110.1" r="0.63" fill="#f09090"/><circle cx="93.2" cy="81.4" r="0.61" fill="#e8a080"/><circle cx="122.0" cy="100.5" r="0.55" fill="#f09090"/><circle cx="105.4" cy="117.0" r="0.45" fill="#f8c0c8"/><circle cx="135.9" cy="121.2" r="0.61" fill="#f09090"/><circle cx="102.6" cy="135.5" r="0.70" fill="#f09090"/><circle cx="108.5" cy="115.6" r="0.69" fill="#f0a0b8"/><circle cx="130.3" cy="93.9" r="0.49" fill="#e86080"/><circle cx="127.0" cy="117.6" r="0.39" fill="#e8a080"/><circle cx="110.4" cy="82.9" r="0.58" fill="#f09090"/><circle cx="116.6" cy="93.3" r="0.49" fill="#e07068"/><circle cx="102.2" cy="58.2" r="0.64" fill="#e07068"/><circle cx="109.0" cy="102.6" r="0.60" fill="#f0a0b8"/><circle cx="136.3" cy="117.8" r="0.55" fill="#e8a080"/><circle cx="92.2" cy="101.3" r="0.60" fill="#f0a0b8"/><circle cx="124.9" cy="108.8" r="0.34" fill="#e07068"/><circle cx="101.6" cy="114.9" r="0.59" fill="#e8a080"/><circle cx="91.5" cy="93.5" r="0.52" fill="#f8c0c8"/><circle cx="90.5" cy="104.0" r="0.30" fill="#e07068"/><circle cx="97.6" cy="95.4" r="0.58" fill="#f09090"/><circle cx="131.3" cy="123.6" r="0.32" fill="#e8a080"/><circle cx="94.9" cy="117.3" r="0.32" fill="#f8c0c8"/><circle cx="99.3" cy="78.5" r="0.59" fill="#e8a080"/><circle cx="96.8" cy="109.1" r="0.35" fill="#e07068"/><circle cx="115.9" cy="133.0" r="0.43" fill="#f09090"/><circle cx="131.7" cy="100.0" r="0.53" fill="#f09090"/><circle cx="118.9" cy="62.6" r="0.33" fill="#e07068"/><circle cx="92.0" cy="79.7" r="0.59" fill="#f0a0b8"/><circle cx="119.8" cy="88.4" r="0.56" fill="#f0a0b8"/><circle cx="115.9" cy="120.9" r="0.36" fill="#f8c0c8"/><circle cx="99.9" cy="54.2" r="0.53" fill="#e8a080"/><circle cx="96.0" cy="130.2" r="0.47" fill="#f09090"/><circle cx="78.0" cy="86.1" r="0.64" fill="#e86080"/><circle cx="83.0" cy="95.1" r="0.55" fill="#f0a0b8"/><circle cx="135.2" cy="126.6" r="0.42" fill="#f09090"/><circle cx="96.7" cy="89.7" r="0.30" fill="#f8c0c8"/><circle cx="116.5" cy="106.5" r="0.31" fill="#e8a080"/><circle cx="100.2" cy="135.0" r="0.31" fill="#f0a0b8"/><circle cx="130.9" cy="109.1" r="0.31" fill="#f0a0b8"/><circle cx="101.6" cy="121.3" r="0.51" fill="#f09090"/><circle cx="108.4" cy="109.9" r="0.30" fill="#f070a0"/><circle cx="125.9" cy="98.2" r="0.49" fill="#f070a0"/><circle cx="134.9" cy="96.3" r="0.42" fill="#e86080"/><circle cx="114.6" cy="45.0" r="0.66" fill="#f070a0"/><circle cx="100.1" cy="85.2" r="0.61" fill="#e8a080"/><circle cx="85.2" cy="87.3" r="0.38" fill="#f8c0c8"/><circle cx="118.5" cy="116.9" r="0.61" fill="#e8a080"/><circle cx="81.8" cy="98.4" r="0.34" fill="#f0a0b8"/><circle cx="111.1" cy="104.7" r="0.63" fill="#e8a080"/><circle cx="84.5" cy="92.1" r="0.53" fill="#f09090"/><circle cx="96.1" cy="117.8" r="0.67" fill="#f0a0b8"/><circle cx="116.1" cy="135.9" r="0.41" fill="#f070a0"/><circle cx="91.1" cy="108.8" r="0.43" fill="#f0a0b8"/><circle cx="104.3" cy="82.6" r="0.37" fill="#f09090"/><circle cx="119.5" cy="81.7" r="0.50" fill="#e8a080"/><circle cx="93.7" cy="130.8" r="0.31" fill="#f070a0"/><circle cx="116.7" cy="109.1" r="0.49" fill="#f8c0c8"/><circle cx="93.1" cy="101.7" r="0.53" fill="#f8c0c8"/><circle cx="111.9" cy="123.4" r="0.35" fill="#e86080"/><circle cx="100.2" cy="122.7" r="0.56" fill="#e86080"/><circle cx="122.1" cy="109.4" r="0.64" fill="#f09090"/><circle cx="101.9" cy="114.9" r="0.62" fill="#f09090"/><circle cx="122.2" cy="130.4" r="0.47" fill="#f8c0c8"/><circle cx="102.5" cy="72.6" r="0.68" fill="#e86080"/><circle cx="103.2" cy="103.3" r="0.52" fill="#f0a0b8"/><circle cx="108.4" cy="115.1" r="0.37" fill="#f070a0"/><circle cx="96.0" cy="78.2" r="0.58" fill="#f0a0b8"/><circle cx="125.2" cy="125.7" r="0.53" fill="#f070a0"/><circle cx="118.5" cy="120.1" r="0.50" fill="#e07068"/><circle cx="99.0" cy="121.9" r="0.46" fill="#f070a0"/><circle cx="105.0" cy="108.2" r="0.48" fill="#e8a080"/><circle cx="88.9" cy="102.7" r="0.46" fill="#f09090"/><circle cx="133.3" cy="74.1" r="0.39" fill="#f070a0"/><circle cx="114.4" cy="55.5" r="0.51" fill="#f070a0"/><circle cx="108.0" cy="78.0" r="0.59" fill="#f8c0c8"/><circle cx="105.2" cy="114.5" r="0.42" fill="#f09090"/><circle cx="118.6" cy="122.0" r="0.59" fill="#f8c0c8"/><circle cx="103.4" cy="119.4" r="0.34" fill="#f0a0b8"/><circle cx="91.5" cy="94.7" r="0.59" fill="#f09090"/><circle cx="80.0" cy="87.0" r="0.58" fill="#e07068"/><circle cx="121.3" cy="109.0" r="0.55" fill="#f0a0b8"/><circle cx="141.8" cy="72.6" r="0.47" fill="#e86080"/><circle cx="89.0" cy="107.1" r="0.43" fill="#f070a0"/><circle cx="112.6" cy="129.2" r="0.32" fill="#f0a0b8"/><circle cx="101.2" cy="100.7" r="0.37" fill="#e8a080"/><circle cx="131.0" cy="114.6" r="0.66" fill="#e8a080"/><circle cx="95.2" cy="133.7" r="0.41" fill="#f8c0c8"/><circle cx="105.4" cy="112.3" r="0.38" fill="#f070a0"/><circle cx="87.2" cy="95.1" r="0.43" fill="#e86080"/><circle cx="114.1" cy="51.9" r="0.67" fill="#e07068"/><circle cx="84.2" cy="84.9" r="0.30" fill="#f8c0c8"/><circle cx="81.6" cy="86.9" r="0.57" fill="#f070a0"/><circle cx="122.4" cy="97.2" r="0.67" fill="#e86080"/><circle cx="110.8" cy="99.1" r="0.32" fill="#f8c0c8"/><circle cx="95.2" cy="119.0" r="0.47" fill="#f0a0b8"/><circle cx="83.7" cy="97.5" r="0.38" fill="#f0a0b8"/><circle cx="98.8" cy="131.4" r="0.45" fill="#f070a0"/><circle cx="104.5" cy="129.6" r="0.52" fill="#f8c0c8"/><circle cx="116.7" cy="129.7" r="0.63" fill="#e86080"/><circle cx="109.7" cy="108.0" r="0.51" fill="#e8a080"/><circle cx="94.7" cy="116.3" r="0.67" fill="#f09090"/><circle cx="120.2" cy="121.5" r="0.51" fill="#e8a080"/><circle cx="127.1" cy="118.7" r="0.67" fill="#f070a0"/><circle cx="126.2" cy="116.8" r="0.61" fill="#e07068"/><circle cx="106.2" cy="59.2" r="0.56" fill="#e8a080"/><circle cx="87.2" cy="74.5" r="0.64" fill="#e86080"/><circle cx="91.6" cy="95.9" r="0.53" fill="#f070a0"/><circle cx="87.3" cy="106.0" r="0.63" fill="#f0a0b8"/><circle cx="105.7" cy="90.4" r="0.60" fill="#e86080"/><circle cx="127.3" cy="94.6" r="0.43" fill="#f070a0"/><circle cx="125.9" cy="122.4" r="0.46" fill="#e07068"/><circle cx="124.9" cy="105.9" r="0.51" fill="#f8c0c8"/><circle cx="103.8" cy="97.9" r="0.67" fill="#f09090"/><circle cx="94.5" cy="115.3" r="0.40" fill="#f0a0b8"/><circle cx="136.9" cy="88.8" r="0.37" fill="#e8a080"/><circle cx="88.5" cy="104.9" r="0.40" fill="#e86080"/><circle cx="135.3" cy="93.0" r="0.61" fill="#f0a0b8"/><circle cx="138.7" cy="83.4" r="0.37" fill="#f8c0c8"/><circle cx="109.6" cy="123.7" r="0.46" fill="#f0a0b8"/><circle cx="91.1" cy="70.6" r="0.58" fill="#e07068"/><circle cx="96.5" cy="73.1" r="0.43" fill="#f0a0b8"/><circle cx="97.4" cy="95.9" r="0.34" fill="#f0a0b8"/><circle cx="99.1" cy="100.3" r="0.47" fill="#f0a0b8"/><circle cx="121.9" cy="135.5" r="0.64" fill="#f09090"/><circle cx="90.4" cy="112.8" r="0.64" fill="#f070a0"/><circle cx="97.1" cy="80.6" r="0.51" fill="#f8c0c8"/><circle cx="131.8" cy="57.7" r="0.58" fill="#e07068"/><circle cx="121.8" cy="122.9" r="0.41" fill="#f09090"/><circle cx="92.7" cy="98.9" r="0.35" fill="#f09090"/><circle cx="105.5" cy="128.8" r="0.41" fill="#f070a0"/><circle cx="92.9" cy="118.7" r="0.37" fill="#e07068"/><circle cx="97.2" cy="69.2" r="0.68" fill="#e86080"/><circle cx="124.7" cy="126.8" r="0.64" fill="#e07068"/><circle cx="98.4" cy="97.3" r="0.60" fill="#f09090"/><circle cx="129.9" cy="118.3" r="0.67" fill="#f8c0c8"/><circle cx="91.5" cy="94.2" r="0.68" fill="#e86080"/><circle cx="95.9" cy="124.2" r="0.48" fill="#e86080"/><circle cx="104.8" cy="122.4" r="0.65" fill="#e07068"/><circle cx="105.4" cy="111.5" r="0.43" fill="#f8c0c8"/><circle cx="136.7" cy="118.4" r="0.47" fill="#f09090"/><circle cx="86.1" cy="95.6" r="0.51" fill="#e07068"/><circle cx="94.8" cy="106.4" r="0.46" fill="#f09090"/><circle cx="91.1" cy="84.2" r="0.53" fill="#f8c0c8"/><circle cx="119.1" cy="113.3" r="0.40" fill="#e8a080"/><circle cx="86.1" cy="88.3" r="0.49" fill="#f070a0"/><circle cx="97.4" cy="92.0" r="0.35" fill="#f070a0"/><circle cx="93.3" cy="121.3" r="0.51" fill="#f0a0b8"/><circle cx="123.6" cy="118.2" r="0.36" fill="#f09090"/><circle cx="87.1" cy="86.1" r="0.49" fill="#f070a0"/><circle cx="113.5" cy="95.9" r="0.33" fill="#e07068"/><circle cx="81.2" cy="71.7" r="0.48" fill="#f8c0c8"/><circle cx="102.4" cy="79.1" r="0.69" fill="#e07068"/><circle cx="122.8" cy="133.5" r="0.42" fill="#e07068"/><circle cx="106.3" cy="119.0" r="0.57" fill="#f09090"/><circle cx="93.7" cy="98.8" r="0.47" fill="#e86080"/><circle cx="113.3" cy="69.0" r="0.33" fill="#f070a0"/><circle cx="97.2" cy="111.0" r="0.48" fill="#e07068"/><circle cx="81.2" cy="92.4" r="0.35" fill="#f09090"/><circle cx="96.3" cy="119.7" r="0.58" fill="#f8c0c8"/><circle cx="125.0" cy="118.9" r="0.35" fill="#f09090"/><circle cx="89.1" cy="103.6" r="0.47" fill="#f8c0c8"/><circle cx="139.1" cy="92.8" r="0.61" fill="#f09090"/><circle cx="116.8" cy="121.7" r="0.30" fill="#f8c0c8"/><circle cx="93.1" cy="106.3" r="0.64" fill="#e8a080"/><circle cx="106.2" cy="100.5" r="0.39" fill="#e86080"/><circle cx="119.9" cy="124.1" r="0.52" fill="#e8a080"/><circle cx="112.0" cy="111.8" r="0.56" fill="#e86080"/><circle cx="93.5" cy="110.1" r="0.55" fill="#f09090"/><circle cx="125.4" cy="94.3" r="0.60" fill="#e86080"/><circle cx="128.8" cy="112.5" r="0.70" fill="#e86080"/><circle cx="89.5" cy="90.1" r="0.44" fill="#f8c0c8"/><circle cx="101.7" cy="101.4" r="0.32" fill="#f8c0c8"/><circle cx="124.2" cy="122.8" r="0.42" fill="#f8c0c8"/><circle cx="93.3" cy="88.9" r="0.48" fill="#f0a0b8"/><circle cx="113.7" cy="108.1" r="0.31" fill="#f09090"/><circle cx="101.6" cy="137.1" r="0.49" fill="#e07068"/><circle cx="105.5" cy="131.8" r="0.41" fill="#f09090"/><circle cx="99.8" cy="125.3" r="0.53" fill="#e8a080"/><circle cx="137.3" cy="121.7" r="0.36" fill="#f8c0c8"/><circle cx="87.8" cy="100.6" r="0.32" fill="#e8a080"/><circle cx="113.2" cy="113.6" r="0.31" fill="#f8c0c8"/><circle cx="145.1" cy="57.6" r="0.61" fill="#f09090"/><circle cx="79.5" cy="92.3" r="0.54" fill="#f0a0b8"/><circle cx="96.6" cy="79.9" r="0.55" fill="#e86080"/><circle cx="87.0" cy="109.9" r="0.34" fill="#f09090"/><circle cx="110.3" cy="79.9" r="0.65" fill="#e86080"/><circle cx="115.7" cy="97.4" r="0.61" fill="#f8c0c8"/><circle cx="108.8" cy="121.3" r="0.69" fill="#f070a0"/><circle cx="98.3" cy="129.6" r="0.67" fill="#e8a080"/><circle cx="109.7" cy="128.3" r="0.47" fill="#f8c0c8"/><circle cx="133.6" cy="103.6" r="0.31" fill="#e07068"/><circle cx="82.6" cy="76.3" r="0.30" fill="#f8c0c8"/><circle cx="96.3" cy="110.3" r="0.50" fill="#e86080"/><circle cx="127.2" cy="99.4" r="0.69" fill="#f8c0c8"/><circle cx="103.5" cy="125.3" r="0.50" fill="#e8a080"/><circle cx="87.9" cy="112.4" r="0.54" fill="#f09090"/><circle cx="108.0" cy="131.9" r="0.68" fill="#f070a0"/><circle cx="111.2" cy="90.7" r="0.59" fill="#f070a0"/><circle cx="118.6" cy="101.4" r="0.40" fill="#f070a0"/><circle cx="103.9" cy="100.5" r="0.65" fill="#e07068"/><circle cx="80.9" cy="98.3" r="0.62" fill="#f09090"/><circle cx="82.8" cy="97.3" r="0.56" fill="#e86080"/><circle cx="97.0" cy="126.8" r="0.36" fill="#e86080"/><circle cx="112.9" cy="104.5" r="0.39" fill="#e07068"/><circle cx="90.7" cy="101.1" r="0.59" fill="#e07068"/><circle cx="98.5" cy="112.5" r="0.37" fill="#f070a0"/><circle cx="100.9" cy="47.2" r="0.35" fill="#e86080"/><circle cx="100.7" cy="135.6" r="0.41" fill="#f09090"/><circle cx="99.2" cy="94.3" r="0.31" fill="#e07068"/><circle cx="101.5" cy="76.5" r="0.51" fill="#e07068"/><circle cx="119.2" cy="135.7" r="0.32" fill="#e8a080"/><circle cx="118.2" cy="123.7" r="0.36" fill="#f09090"/><circle cx="111.4" cy="85.5" r="0.45" fill="#f8c0c8"/><circle cx="110.2" cy="133.7" r="0.53" fill="#f8c0c8"/><circle cx="117.0" cy="131.7" r="0.52" fill="#f09090"/><circle cx="92.3" cy="113.0" r="0.64" fill="#f09090"/><circle cx="130.0" cy="129.4" r="0.42" fill="#e07068"/><circle cx="136.3" cy="114.3" r="0.56" fill="#e07068"/><circle cx="90.5" cy="110.9" r="0.39" fill="#e8a080"/><circle cx="108.5" cy="117.6" r="0.38" fill="#e07068"/><circle cx="106.8" cy="123.6" r="0.36" fill="#e07068"/><circle cx="114.4" cy="72.0" r="0.61" fill="#f09090"/><circle cx="98.4" cy="101.7" r="0.54" fill="#e07068"/><circle cx="98.3" cy="134.3" r="0.42" fill="#f09090"/><circle cx="81.0" cy="94.2" r="0.58" fill="#f0a0b8"/><circle cx="108.0" cy="76.1" r="0.43" fill="#f0a0b8"/><circle cx="103.1" cy="137.0" r="0.47" fill="#f8c0c8"/><circle cx="106.3" cy="109.5" r="0.54" fill="#e86080"/><circle cx="103.7" cy="119.1" r="0.66" fill="#f0a0b8"/><circle cx="95.2" cy="126.3" r="0.58" fill="#f8c0c8"/><circle cx="123.7" cy="108.5" r="0.58" fill="#f070a0"/><circle cx="91.5" cy="125.3" r="0.55" fill="#e86080"/><circle cx="104.7" cy="114.7" r="0.45" fill="#e07068"/><circle cx="98.1" cy="84.2" r="0.50" fill="#f0a0b8"/><circle cx="103.7" cy="59.1" r="0.40" fill="#f8c0c8"/><circle cx="130.6" cy="87.5" r="0.52" fill="#f09090"/><circle cx="107.2" cy="98.6" r="0.45" fill="#f09090"/><circle cx="87.8" cy="105.6" r="0.65" fill="#e07068"/><circle cx="121.1" cy="131.6" r="0.47" fill="#f09090"/><circle cx="89.5" cy="74.9" r="0.46" fill="#e86080"/><circle cx="89.9" cy="104.5" r="0.55" fill="#f070a0"/><circle cx="96.8" cy="112.3" r="0.55" fill="#f070a0"/><circle cx="83.6" cy="88.9" r="0.45" fill="#f8c0c8"/><circle cx="122.9" cy="68.3" r="0.64" fill="#e86080"/><circle cx="134.7" cy="108.2" r="0.65" fill="#e8a080"/><circle cx="97.8" cy="83.4" r="0.65" fill="#f070a0"/><circle cx="115.3" cy="117.9" r="0.50" fill="#f0a0b8"/><circle cx="93.9" cy="116.6" r="0.69" fill="#f0a0b8"/><circle cx="119.9" cy="82.5" r="0.68" fill="#f0a0b8"/><circle cx="101.9" cy="99.4" r="0.35" fill="#f0a0b8"/><circle cx="121.9" cy="76.1" r="0.45" fill="#f0a0b8"/><circle cx="129.6" cy="63.8" r="0.63" fill="#f8c0c8"/><circle cx="134.4" cy="119.8" r="0.38" fill="#f8c0c8"/><circle cx="107.7" cy="119.8" r="0.32" fill="#f09090"/><circle cx="110.4" cy="114.5" r="0.41" fill="#f070a0"/><circle cx="124.2" cy="117.3" r="0.38" fill="#e07068"/><circle cx="124.2" cy="77.1" r="0.44" fill="#e86080"/><circle cx="122.1" cy="132.3" r="0.55" fill="#e07068"/><circle cx="103.8" cy="100.0" r="0.47" fill="#f0a0b8"/><circle cx="96.2" cy="106.0" r="0.65" fill="#f09090"/><circle cx="110.1" cy="93.0" r="0.37" fill="#f8c0c8"/><circle cx="99.4" cy="129.2" r="0.59" fill="#f8c0c8"/><circle cx="96.8" cy="137.1" r="0.70" fill="#f8c0c8"/><circle cx="117.2" cy="101.8" r="0.42" fill="#f0a0b8"/><circle cx="96.0" cy="119.9" r="0.36" fill="#f070a0"/><circle cx="103.1" cy="91.7" r="0.58" fill="#f09090"/><circle cx="127.0" cy="93.7" r="0.43" fill="#e07068"/><circle cx="127.6" cy="84.8" r="0.36" fill="#f8c0c8"/><circle cx="110.1" cy="127.9" r="0.62" fill="#f09090"/><circle cx="110.7" cy="105.5" r="0.31" fill="#e8a080"/><circle cx="103.3" cy="120.1" r="0.51" fill="#f070a0"/><circle cx="86.9" cy="98.7" r="0.52" fill="#e07068"/><circle cx="117.3" cy="104.0" r="0.40" fill="#e07068"/><circle cx="105.6" cy="132.6" r="0.42" fill="#e8a080"/><circle cx="83.8" cy="88.1" r="0.66" fill="#e86080"/><circle cx="124.0" cy="44.4" r="0.36" fill="#e07068"/><circle cx="82.9" cy="101.0" r="0.40" fill="#f0a0b8"/><circle cx="122.9" cy="90.1" r="0.63" fill="#e86080"/><circle cx="81.5" cy="93.7" r="0.56" fill="#e86080"/><circle cx="97.5" cy="113.7" r="0.62" fill="#f8c0c8"/><circle cx="118.8" cy="123.3" r="0.35" fill="#f070a0"/><circle cx="84.0" cy="95.6" r="0.67" fill="#f8c0c8"/><circle cx="89.4" cy="112.3" r="0.39" fill="#e86080"/><circle cx="99.9" cy="110.8" r="0.30" fill="#f0a0b8"/><circle cx="100.7" cy="125.3" r="0.38" fill="#f070a0"/><circle cx="111.2" cy="106.8" r="0.60" fill="#e07068"/><circle cx="111.5" cy="115.2" r="0.57" fill="#e86080"/><circle cx="106.1" cy="98.5" r="0.49" fill="#e86080"/><circle cx="110.4" cy="114.6" r="0.36" fill="#e8a080"/><circle cx="93.3" cy="108.7" r="0.47" fill="#f0a0b8"/><circle cx="118.5" cy="102.2" r="0.35" fill="#f070a0"/><circle cx="90.1" cy="81.8" r="0.47" fill="#f070a0"/><circle cx="100.0" cy="81.0" r="0.32" fill="#f070a0"/><circle cx="110.8" cy="72.8" r="0.57" fill="#f8c0c8"/><circle cx="115.5" cy="124.5" r="0.60" fill="#e86080"/><circle cx="121.5" cy="99.0" r="0.69" fill="#f8c0c8"/><circle cx="131.6" cy="92.3" r="0.35" fill="#f0a0b8"/><circle cx="119.1" cy="108.3" r="0.32" fill="#e8a080"/><circle cx="117.0" cy="98.0" r="0.67" fill="#e8a080"/><circle cx="108.1" cy="109.4" r="0.42" fill="#f09090"/><circle cx="90.2" cy="92.3" r="0.56" fill="#e86080"/><circle cx="99.8" cy="99.3" r="0.33" fill="#f8c0c8"/><circle cx="100.4" cy="111.6" r="0.40" fill="#f070a0"/><circle cx="135.2" cy="113.8" r="0.39" fill="#f8c0c8"/><circle cx="104.0" cy="111.0" r="0.60" fill="#f070a0"/><circle cx="119.5" cy="77.0" r="0.63" fill="#e07068"/><circle cx="119.2" cy="117.7" r="0.62" fill="#e8a080"/><circle cx="126.3" cy="101.5" r="0.63" fill="#f070a0"/><circle cx="125.9" cy="101.2" r="0.65" fill="#e86080"/><circle cx="127.8" cy="47.5" r="0.67" fill="#f09090"/><circle cx="100.9" cy="86.4" r="0.34" fill="#e86080"/><circle cx="100.8" cy="123.2" r="0.36" fill="#f0a0b8"/><circle cx="91.7" cy="121.1" r="0.36" fill="#f8c0c8"/><circle cx="127.2" cy="77.0" r="0.69" fill="#e86080"/><circle cx="83.9" cy="64.0" r="0.63" fill="#f0a0b8"/><circle cx="130.6" cy="108.5" r="0.46" fill="#e86080"/><circle cx="107.2" cy="103.2" r="0.34" fill="#f070a0"/><circle cx="130.8" cy="89.3" r="0.63" fill="#f8c0c8"/><circle cx="109.8" cy="104.0" r="0.45" fill="#f070a0"/><circle cx="134.9" cy="103.4" r="0.34" fill="#f070a0"/><circle cx="100.9" cy="116.3" r="0.40" fill="#f09090"/><circle cx="116.4" cy="117.4" r="0.43" fill="#e86080"/><circle cx="94.7" cy="79.0" r="0.60" fill="#f8c0c8"/><circle cx="98.5" cy="127.9" r="0.50" fill="#e07068"/><circle cx="84.6" cy="97.5" r="0.53" fill="#e07068"/><circle cx="89.6" cy="106.8" r="0.59" fill="#e8a080"/><circle cx="112.8" cy="111.4" r="0.67" fill="#e86080"/><circle cx="121.0" cy="132.1" r="0.59" fill="#f8c0c8"/><circle cx="97.2" cy="131.5" r="0.41" fill="#e86080"/><circle cx="126.9" cy="95.0" r="0.34" fill="#f0a0b8"/><circle cx="85.2" cy="79.1" r="0.46" fill="#f0a0b8"/><circle cx="114.2" cy="120.2" r="0.37" fill="#f070a0"/><circle cx="97.4" cy="137.7" r="0.58" fill="#f0a0b8"/><circle cx="89.4" cy="60.7" r="0.60" fill="#f0a0b8"/><circle cx="93.8" cy="102.3" r="0.33" fill="#f0a0b8"/><circle cx="107.8" cy="81.1" r="0.66" fill="#f09090"/><circle cx="99.3" cy="113.8" r="0.44" fill="#f0a0b8"/><circle cx="88.3" cy="110.8" r="0.36" fill="#f8c0c8"/><circle cx="130.2" cy="112.2" r="0.36" fill="#f0a0b8"/><circle cx="97.4" cy="117.6" r="0.41" fill="#f8c0c8"/><circle cx="100.1" cy="93.2" r="0.61" fill="#f070a0"/><circle cx="101.7" cy="94.2" r="0.47" fill="#e86080"/><circle cx="130.9" cy="130.9" r="0.48" fill="#e8a080"/><circle cx="89.3" cy="116.1" r="0.35" fill="#e07068"/><circle cx="93.4" cy="122.2" r="0.47" fill="#f09090"/><circle cx="103.1" cy="100.4" r="0.32" fill="#e8a080"/><circle cx="106.0" cy="132.1" r="0.59" fill="#f0a0b8"/><circle cx="115.6" cy="133.0" r="0.34" fill="#f0a0b8"/><circle cx="84.8" cy="100.6" r="0.69" fill="#e8a080"/><circle cx="102.4" cy="112.7" r="0.48" fill="#f8c0c8"/><circle cx="128.9" cy="119.1" r="0.40" fill="#f070a0"/><circle cx="94.2" cy="131.6" r="0.56" fill="#e8a080"/><circle cx="121.8" cy="84.2" r="0.42" fill="#f09090"/><circle cx="81.3" cy="77.5" r="0.44" fill="#f8c0c8"/><circle cx="89.6" cy="76.4" r="0.43" fill="#f070a0"/><circle cx="102.7" cy="99.0" r="0.34" fill="#e86080"/><circle cx="122.8" cy="106.8" r="0.63" fill="#f09090"/><circle cx="111.4" cy="137.0" r="0.35" fill="#f09090"/><circle cx="119.3" cy="97.9" r="0.31" fill="#f070a0"/><circle cx="134.8" cy="110.9" r="0.60" fill="#f0a0b8"/><circle cx="94.6" cy="115.7" r="0.34" fill="#e07068"/><circle cx="89.1" cy="97.9" r="0.64" fill="#e07068"/><circle cx="123.5" cy="123.1" r="0.35" fill="#e86080"/><circle cx="88.6" cy="79.2" r="0.47" fill="#f8c0c8"/><circle cx="96.7" cy="125.2" r="0.36" fill="#f070a0"/><circle cx="104.0" cy="98.2" r="0.50" fill="#f0a0b8"/><circle cx="91.4" cy="92.1" r="0.65" fill="#f8c0c8"/><circle cx="129.5" cy="126.2" r="0.38" fill="#e07068"/><circle cx="98.8" cy="88.1" r="0.52" fill="#f8c0c8"/><circle cx="110.5" cy="75.7" r="0.44" fill="#f8c0c8"/><circle cx="117.5" cy="108.2" r="0.38" fill="#f070a0"/><circle cx="111.4" cy="107.2" r="0.36" fill="#e86080"/><circle cx="121.0" cy="105.1" r="0.42" fill="#e07068"/><circle cx="95.7" cy="84.5" r="0.63" fill="#f070a0"/><circle cx="106.1" cy="104.7" r="0.40" fill="#e86080"/><circle cx="111.7" cy="133.9" r="0.68" fill="#f8c0c8"/><circle cx="88.1" cy="97.4" r="0.39" fill="#f0a0b8"/><circle cx="92.3" cy="80.8" r="0.42" fill="#e86080"/><circle cx="101.9" cy="125.8" r="0.36" fill="#f0a0b8"/><circle cx="108.6" cy="114.8" r="0.64" fill="#f070a0"/><circle cx="95.4" cy="87.2" r="0.32" fill="#f8c0c8"/><circle cx="103.1" cy="130.8" r="0.49" fill="#f09090"/><circle cx="115.1" cy="86.7" r="0.57" fill="#e8a080"/><circle cx="111.0" cy="105.4" r="0.58" fill="#f070a0"/><circle cx="108.7" cy="119.7" r="0.41" fill="#f070a0"/><circle cx="100.5" cy="123.9" r="0.44" fill="#f8c0c8"/><circle cx="113.4" cy="90.3" r="0.36" fill="#f8c0c8"/><circle cx="132.7" cy="91.5" r="0.43" fill="#e8a080"/><circle cx="99.8" cy="100.5" r="0.32" fill="#e07068"/><circle cx="111.5" cy="106.6" r="0.39" fill="#e07068"/></g>
<g filter="url(#pb05)"><ellipse cx="139.9" cy="31.3" rx="5.35" ry="4.82" fill="#6a2a20" opacity="0.55"/><ellipse cx="139.9" cy="31.3" rx="4.45" ry="3.92" fill="#6cee7c"/><ellipse cx="139.9" cy="31.3" rx="2.45" ry="2.16" fill="#8cf89a"/><ellipse cx="150.2" cy="22.8" rx="4.50" ry="5.67" fill="#6a2a20" opacity="0.55"/><ellipse cx="150.2" cy="22.8" rx="3.60" ry="4.77" fill="#6cee7c"/><ellipse cx="150.2" cy="22.8" rx="1.98" ry="2.62" fill="#8cf89a"/><ellipse cx="165.2" cy="32.6" rx="7.05" ry="6.20" fill="#6a2a20" opacity="0.55"/><ellipse cx="165.2" cy="32.6" rx="6.15" ry="5.30" fill="#6cee7c"/><ellipse cx="165.2" cy="32.6" rx="3.38" ry="2.92" fill="#8cf89a"/><ellipse cx="166" cy="17.1" rx="5.35" ry="7.05" fill="#6a2a20" opacity="0.55"/><ellipse cx="166" cy="17.1" rx="4.45" ry="6.15" fill="#6cee7c"/><ellipse cx="166" cy="17.1" rx="2.45" ry="3.38" fill="#8cf89a"/><ellipse cx="170.9" cy="7.3" rx="4.08" ry="5.35" fill="#6a2a20" opacity="0.55"/><ellipse cx="170.9" cy="7.3" rx="3.18" ry="4.45" fill="#6cee7c"/><ellipse cx="170.9" cy="7.3" rx="1.75" ry="2.45" fill="#8cf89a"/><ellipse cx="178.2" cy="11.4" rx="5.88" ry="5.88" fill="#6a2a20" opacity="0.55"/><ellipse cx="178.2" cy="11.4" rx="4.98" ry="4.98" fill="#6cee7c"/><ellipse cx="178.2" cy="11.4" rx="2.74" ry="2.74" fill="#8cf89a"/><ellipse cx="173.3" cy="23.6" rx="5.88" ry="5.88" fill="#6a2a20" opacity="0.55"/><ellipse cx="173.3" cy="23.6" rx="4.98" ry="4.98" fill="#6cee7c"/><ellipse cx="173.3" cy="23.6" rx="2.74" ry="2.74" fill="#8cf89a"/><ellipse cx="182.3" cy="22" rx="4.82" ry="5.88" fill="#6a2a20" opacity="0.55"/><ellipse cx="182.3" cy="22" rx="3.92" ry="4.98" fill="#6cee7c"/><ellipse cx="182.3" cy="22" rx="2.16" ry="2.74" fill="#8cf89a"/><ellipse cx="176.6" cy="31.8" rx="5.35" ry="4.82" fill="#6a2a20" opacity="0.55"/><ellipse cx="176.6" cy="31.8" rx="4.45" ry="3.92" fill="#6cee7c"/><ellipse cx="176.6" cy="31.8" rx="2.45" ry="2.16" fill="#8cf89a"/><ellipse cx="183.1" cy="37.5" rx="4.82" ry="6.20" fill="#6a2a20" opacity="0.55"/><ellipse cx="183.1" cy="37.5" rx="3.92" ry="5.30" fill="#6cee7c"/><ellipse cx="183.1" cy="37.5" rx="2.16" ry="2.92" fill="#8cf89a"/><ellipse cx="175.8" cy="43.2" rx="5.35" ry="5.88" fill="#6a2a20" opacity="0.55"/><ellipse cx="175.8" cy="43.2" rx="4.45" ry="4.98" fill="#6cee7c"/><ellipse cx="175.8" cy="43.2" rx="2.45" ry="2.74" fill="#8cf89a"/><ellipse cx="182.3" cy="51.3" rx="5.35" ry="7.05" fill="#6a2a20" opacity="0.55"/><ellipse cx="182.3" cy="51.3" rx="4.45" ry="6.15" fill="#6cee7c"/><ellipse cx="182.3" cy="51.3" rx="2.45" ry="3.38" fill="#8cf89a"/><ellipse cx="184.2" cy="74.2" rx="3.55" ry="8.74" fill="#6a2a20" opacity="0.55"/><ellipse cx="184.2" cy="74.2" rx="2.65" ry="7.84" fill="#6cee7c"/><ellipse cx="184.2" cy="74.2" rx="1.46" ry="4.31" fill="#8cf89a"/><ellipse cx="168.4" cy="26" rx="4.40" ry="4.40" fill="#6a2a20" opacity="0.55"/><ellipse cx="168.4" cy="26" rx="3.50" ry="3.50" fill="#6cee7c"/><ellipse cx="168.4" cy="26" rx="1.92" ry="1.92" fill="#8cf89a"/><ellipse cx="184" cy="8.5" rx="3.55" ry="4.61" fill="#6a2a20" opacity="0.55"/><ellipse cx="184" cy="8.5" rx="2.65" ry="3.71" fill="#6cee7c"/><ellipse cx="184" cy="8.5" rx="1.46" ry="2.04" fill="#8cf89a"/><ellipse cx="170" cy="38" rx="4.08" ry="4.08" fill="#6a2a20" opacity="0.55"/><ellipse cx="170" cy="38" rx="3.18" ry="3.18" fill="#6cee7c"/><ellipse cx="170" cy="38" rx="1.75" ry="1.75" fill="#8cf89a"/><ellipse cx="185" cy="30" rx="3.55" ry="5.14" fill="#6a2a20" opacity="0.55"/><ellipse cx="185" cy="30" rx="2.65" ry="4.24" fill="#6cee7c"/><ellipse cx="185" cy="30" rx="1.46" ry="2.33" fill="#8cf89a"/><ellipse cx="146.6" cy="130.9" rx="4.38" ry="3.34" fill="#6a2a20" opacity="0.55"/><ellipse cx="146.6" cy="130.9" rx="3.48" ry="2.44" fill="#6cee7c"/><ellipse cx="146.6" cy="130.9" rx="1.91" ry="1.34" fill="#8cf89a"/><ellipse cx="142.1" cy="138.1" rx="3.81" ry="3.44" fill="#6a2a20" opacity="0.55"/><ellipse cx="142.1" cy="138.1" rx="2.91" ry="2.54" fill="#6cee7c"/><ellipse cx="142.1" cy="138.1" rx="1.60" ry="1.40" fill="#8cf89a"/><ellipse cx="138.3" cy="143.6" rx="2.59" ry="3.16" fill="#6a2a20" opacity="0.55"/><ellipse cx="138.3" cy="143.6" rx="1.69" ry="2.26" fill="#6cee7c"/><ellipse cx="138.3" cy="143.6" rx="0.93" ry="1.24" fill="#8cf89a"/><ellipse cx="134.2" cy="146.9" rx="2.87" ry="2.59" fill="#6a2a20" opacity="0.55"/><ellipse cx="134.2" cy="146.9" rx="1.97" ry="1.69" fill="#6cee7c"/><ellipse cx="134.2" cy="146.9" rx="1.09" ry="0.93" fill="#8cf89a"/><ellipse cx="177.9" cy="137" rx="4.38" ry="4.85" fill="#6a2a20" opacity="0.55"/><ellipse cx="177.9" cy="137" rx="3.48" ry="3.95" fill="#6cee7c"/><ellipse cx="177.9" cy="137" rx="1.91" ry="2.17" fill="#8cf89a"/><ellipse cx="182.9" cy="142.8" rx="3.34" ry="4.10" fill="#6a2a20" opacity="0.55"/><ellipse cx="182.9" cy="142.8" rx="2.44" ry="3.20" fill="#6cee7c"/><ellipse cx="182.9" cy="142.8" rx="1.34" ry="1.76" fill="#8cf89a"/><ellipse cx="177.1" cy="146.1" rx="3.81" ry="3.34" fill="#6a2a20" opacity="0.55"/><ellipse cx="177.1" cy="146.1" rx="2.91" ry="2.44" fill="#6cee7c"/><ellipse cx="177.1" cy="146.1" rx="1.60" ry="1.34" fill="#8cf89a"/><ellipse cx="177.1" cy="153.5" rx="3.81" ry="3.81" fill="#6a2a20" opacity="0.55"/><ellipse cx="177.1" cy="153.5" rx="2.91" ry="2.91" fill="#6cee7c"/><ellipse cx="177.1" cy="153.5" rx="1.60" ry="1.60" fill="#8cf89a"/><ellipse cx="183.7" cy="154.3" rx="3.34" ry="4.38" fill="#6a2a20" opacity="0.55"/><ellipse cx="183.7" cy="154.3" rx="2.44" ry="3.48" fill="#6cee7c"/><ellipse cx="183.7" cy="154.3" rx="1.34" ry="1.91" fill="#8cf89a"/><ellipse cx="167.2" cy="156.8" rx="4.38" ry="3.81" fill="#6a2a20" opacity="0.55"/><ellipse cx="167.2" cy="156.8" rx="3.48" ry="2.91" fill="#6cee7c"/><ellipse cx="167.2" cy="156.8" rx="1.91" ry="1.60" fill="#8cf89a"/><ellipse cx="182.9" cy="161.7" rx="3.34" ry="3.34" fill="#6a2a20" opacity="0.55"/><ellipse cx="182.9" cy="161.7" rx="2.44" ry="2.44" fill="#6cee7c"/><ellipse cx="182.9" cy="161.7" rx="1.34" ry="1.34" fill="#8cf89a"/><ellipse cx="168.9" cy="162.9" rx="4.38" ry="3.34" fill="#6a2a20" opacity="0.55"/><ellipse cx="168.9" cy="162.9" rx="3.48" ry="2.44" fill="#6cee7c"/><ellipse cx="168.9" cy="162.9" rx="1.91" ry="1.34" fill="#8cf89a"/><ellipse cx="160.6" cy="164.2" rx="6.45" ry="3.16" fill="#6a2a20" opacity="0.55"/><ellipse cx="160.6" cy="164.2" rx="5.55" ry="2.26" fill="#6cee7c"/><ellipse cx="160.6" cy="164.2" rx="3.05" ry="1.24" fill="#8cf89a"/><ellipse cx="151.5" cy="165" rx="4.85" ry="3.16" fill="#6a2a20" opacity="0.55"/><ellipse cx="151.5" cy="165" rx="3.95" ry="2.26" fill="#6cee7c"/><ellipse cx="151.5" cy="165" rx="2.17" ry="1.24" fill="#8cf89a"/><ellipse cx="138.3" cy="170.8" rx="4.10" ry="4.38" fill="#6a2a20" opacity="0.55"/><ellipse cx="138.3" cy="170.8" rx="3.20" ry="3.48" fill="#6cee7c"/><ellipse cx="138.3" cy="170.8" rx="1.76" ry="1.91" fill="#8cf89a"/><ellipse cx="141.6" cy="176.6" rx="4.85" ry="4.85" fill="#6a2a20" opacity="0.55"/><ellipse cx="141.6" cy="176.6" rx="3.95" ry="3.95" fill="#6cee7c"/><ellipse cx="141.6" cy="176.6" rx="2.17" ry="2.17" fill="#8cf89a"/><ellipse cx="149.1" cy="174.1" rx="4.38" ry="4.10" fill="#6a2a20" opacity="0.55"/><ellipse cx="149.1" cy="174.1" rx="3.48" ry="3.20" fill="#6cee7c"/><ellipse cx="149.1" cy="174.1" rx="1.91" ry="1.76" fill="#8cf89a"/><ellipse cx="156.5" cy="174.9" rx="3.81" ry="3.81" fill="#6a2a20" opacity="0.55"/><ellipse cx="156.5" cy="174.9" rx="2.91" ry="2.91" fill="#6cee7c"/><ellipse cx="156.5" cy="174.9" rx="1.60" ry="1.60" fill="#8cf89a"/><ellipse cx="149.1" cy="180.7" rx="4.85" ry="3.81" fill="#6a2a20" opacity="0.55"/><ellipse cx="149.1" cy="180.7" rx="3.95" ry="2.91" fill="#6cee7c"/><ellipse cx="149.1" cy="180.7" rx="2.17" ry="1.60" fill="#8cf89a"/><ellipse cx="157.3" cy="182.4" rx="3.34" ry="2.87" fill="#6a2a20" opacity="0.55"/><ellipse cx="157.3" cy="182.4" rx="2.44" ry="1.97" fill="#6cee7c"/><ellipse cx="157.3" cy="182.4" rx="1.34" ry="1.09" fill="#8cf89a"/><ellipse cx="167.2" cy="183.2" rx="2.87" ry="2.59" fill="#6a2a20" opacity="0.55"/><ellipse cx="167.2" cy="183.2" rx="1.97" ry="1.69" fill="#6cee7c"/><ellipse cx="167.2" cy="183.2" rx="1.09" ry="0.93" fill="#8cf89a"/><ellipse cx="120.2" cy="177.4" rx="3.34" ry="4.10" fill="#6a2a20" opacity="0.55"/><ellipse cx="120.2" cy="177.4" rx="2.44" ry="3.20" fill="#6cee7c"/><ellipse cx="120.2" cy="177.4" rx="1.34" ry="1.76" fill="#8cf89a"/><ellipse cx="126" cy="178.2" rx="3.81" ry="4.10" fill="#6a2a20" opacity="0.55"/><ellipse cx="126" cy="178.2" rx="2.91" ry="3.20" fill="#6cee7c"/><ellipse cx="126" cy="178.2" rx="1.60" ry="1.76" fill="#8cf89a"/><ellipse cx="117.7" cy="183.2" rx="2.87" ry="2.59" fill="#6a2a20" opacity="0.55"/><ellipse cx="117.7" cy="183.2" rx="1.97" ry="1.69" fill="#6cee7c"/><ellipse cx="117.7" cy="183.2" rx="1.09" ry="0.93" fill="#8cf89a"/><ellipse cx="144.1" cy="169.2" rx="3.34" ry="2.87" fill="#6a2a20" opacity="0.55"/><ellipse cx="144.1" cy="169.2" rx="2.44" ry="1.97" fill="#6cee7c"/><ellipse cx="144.1" cy="169.2" rx="1.34" ry="1.09" fill="#8cf89a"/><ellipse cx="145" cy="173" rx="3.25" ry="3.25" fill="#6a2a20" opacity="0.55"/><ellipse cx="145" cy="173" rx="2.35" ry="2.35" fill="#6cee7c"/><ellipse cx="145" cy="173" rx="1.29" ry="1.29" fill="#8cf89a"/><ellipse cx="185" cy="148" rx="2.31" ry="3.25" fill="#6a2a20" opacity="0.55"/><ellipse cx="185" cy="148" rx="1.41" ry="2.35" fill="#6cee7c"/><ellipse cx="185" cy="148" rx="0.78" ry="1.29" fill="#8cf89a"/></g>
<path d="M30.4 121.0 L7.4 131.8 L15.6 134.6 L12.0 138.6 L15.2 141.0 L18.8 137.0 L22.2 145.6 Z" fill="#ffffff"/>
</g></g>
</g>
</svg></body></html>
